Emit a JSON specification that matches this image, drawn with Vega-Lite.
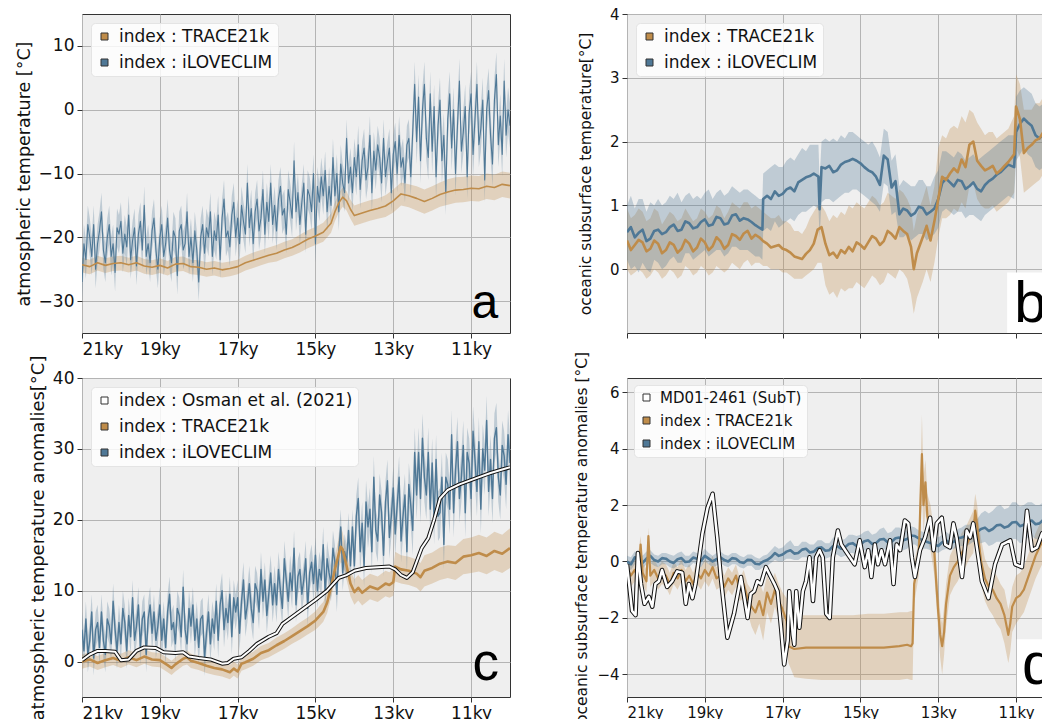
{
"$schema": "https://vega.github.io/schema/vega-lite/v6.json",
"background": "white",
"padding": {"left": 14, "top": 6, "right": 0, "bottom": 0},
"columns": 2,
"spacing": {"row": 45, "column": 117},
"bounds": "flush",
"resolve": {"scale": {"color": "independent"}, "legend": {"color": "independent"}},
"config": {
 "font": "DejaVu Sans",
 "view": {"fill": "#efefef", "stroke": "#333333", "strokeWidth": 1},
 "axis": {"grid": true, "gridColor": "#b4b4b4", "gridWidth": 1, "domain": false, "tickColor": "#333333", "tickSize": 5, "labelFont": "DejaVu Sans", "labelColor": "#111111", "titleFont": "DejaVu Sans", "titleFontWeight": "normal", "titleColor": "#111111", "labelPadding": 3, "titlePadding": 5},
 "legend": {"symbolType": "square", "symbolSize": 49, "symbolStrokeColor": "#333333", "symbolStrokeWidth": 1, "symbolOpacity": 1, "fillColor": "rgba(255,255,255,0.82)", "strokeColor": "#e4e4e4", "cornerRadius": 4, "padding": 5, "labelFont": "DejaVu Sans", "labelColor": "#111111", "labelOffset": 6, "labelLimit": 0, "titlePadding": 0}
},
"datasets": {
"a": [
{"s":"I","t":21.00,"m":-27,"l":-30,"h":-24},{"s":"I","t":20.95,"m":-21,"l":-24,"h":-18},{"s":"I","t":20.90,"m":-23.5,"l":-26.5,"h":-20.5},{"s":"I","t":20.85,"m":-18,"l":-21,"h":-15},{"s":"I","t":20.80,"m":-20,"l":-23,"h":-17},{"s":"I","t":20.75,"m":-23,"l":-26,"h":-20},{"s":"I","t":20.70,"m":-18,"l":-21,"h":-15},{"s":"I","t":20.65,"m":-25,"l":-28,"h":-22},{"s":"I","t":20.60,"m":-21,"l":-24,"h":-18},{"s":"I","t":20.55,"m":-19,"l":-22,"h":-16},
{"s":"I","t":20.50,"m":-16,"l":-19,"h":-13},{"s":"I","t":20.45,"m":-22,"l":-25,"h":-19},{"s":"I","t":20.40,"m":-24,"l":-27,"h":-21},{"s":"I","t":20.35,"m":-20,"l":-23,"h":-17},{"s":"I","t":20.30,"m":-18,"l":-21,"h":-15},{"s":"I","t":20.25,"m":-23,"l":-26,"h":-20},{"s":"I","t":20.20,"m":-21,"l":-24,"h":-18},{"s":"I","t":20.15,"m":-25.5,"l":-28.5,"h":-22.5},{"s":"I","t":20.10,"m":-18.5,"l":-21.5,"h":-15.5},{"s":"I","t":20.05,"m":-19.5,"l":-22.5,"h":-16.5},
{"s":"I","t":20.00,"m":-17.5,"l":-20.5,"h":-14.5},{"s":"I","t":19.95,"m":-22.5,"l":-25.5,"h":-19.5},{"s":"I","t":19.90,"m":-19.5,"l":-22.5,"h":-16.5},{"s":"I","t":19.85,"m":-21.5,"l":-24.5,"h":-18.5},{"s":"I","t":19.80,"m":-16.5,"l":-19.5,"h":-13.5},{"s":"I","t":19.75,"m":-23.5,"l":-26.5,"h":-20.5},{"s":"I","t":19.70,"m":-20.5,"l":-23.5,"h":-17.5},{"s":"I","t":19.65,"m":-18.5,"l":-21.5,"h":-15.5},{"s":"I","t":19.60,"m":-24.5,"l":-27.5,"h":-21.5},{"s":"I","t":19.55,"m":-19.5,"l":-22.5,"h":-16.5},
{"s":"I","t":19.50,"m":-17.5,"l":-20.5,"h":-14.5},{"s":"I","t":19.45,"m":-22,"l":-25,"h":-19},{"s":"I","t":19.40,"m":-15,"l":-18,"h":-12},{"s":"I","t":19.35,"m":-23,"l":-26,"h":-20},{"s":"I","t":19.30,"m":-21,"l":-24,"h":-18},{"s":"I","t":19.25,"m":-24,"l":-27,"h":-21},{"s":"I","t":19.20,"m":-19,"l":-22,"h":-16},{"s":"I","t":19.15,"m":-17,"l":-20,"h":-14},{"s":"I","t":19.10,"m":-22,"l":-25,"h":-19},{"s":"I","t":19.05,"m":-25,"l":-28,"h":-22},
{"s":"I","t":19.00,"m":-20,"l":-23,"h":-17},{"s":"I","t":18.95,"m":-18,"l":-21,"h":-15},{"s":"I","t":18.90,"m":-23,"l":-26,"h":-20},{"s":"I","t":18.85,"m":-21,"l":-24,"h":-18},{"s":"I","t":18.80,"m":-17,"l":-20,"h":-14},{"s":"I","t":18.75,"m":-22,"l":-25,"h":-19},{"s":"I","t":18.70,"m":-24,"l":-27,"h":-21},{"s":"I","t":18.65,"m":-19,"l":-22,"h":-16},{"s":"I","t":18.60,"m":-20,"l":-23,"h":-17},{"s":"I","t":18.55,"m":-26,"l":-29,"h":-23},
{"s":"I","t":18.50,"m":-19,"l":-22,"h":-16},{"s":"I","t":18.45,"m":-18,"l":-21,"h":-15},{"s":"I","t":18.40,"m":-22,"l":-25,"h":-19},{"s":"I","t":18.35,"m":-21,"l":-24,"h":-18},{"s":"I","t":18.30,"m":-16,"l":-19,"h":-13},{"s":"I","t":18.25,"m":-23,"l":-26,"h":-20},{"s":"I","t":18.20,"m":-20,"l":-23,"h":-17},{"s":"I","t":18.15,"m":-24,"l":-27,"h":-21},{"s":"I","t":18.10,"m":-19,"l":-22,"h":-16},{"s":"I","t":18.05,"m":-22,"l":-25,"h":-19},
{"s":"I","t":18.00,"m":-27,"l":-30,"h":-24},{"s":"I","t":17.95,"m":-20,"l":-23,"h":-17},{"s":"I","t":17.90,"m":-18,"l":-21,"h":-15},{"s":"I","t":17.85,"m":-22.5,"l":-25.5,"h":-19.5},{"s":"I","t":17.80,"m":-18.5,"l":-21.5,"h":-15.5},{"s":"I","t":17.75,"m":-20,"l":-23,"h":-17},{"s":"I","t":17.70,"m":-16,"l":-19,"h":-13},{"s":"I","t":17.65,"m":-23,"l":-26,"h":-20},{"s":"I","t":17.60,"m":-19,"l":-22,"h":-16},{"s":"I","t":17.55,"m":-20.5,"l":-23.5,"h":-17.5},
{"s":"I","t":17.50,"m":-16.5,"l":-19.5,"h":-13.5},{"s":"I","t":17.45,"m":-23.5,"l":-26.5,"h":-20.5},{"s":"I","t":17.40,"m":-17,"l":-20,"h":-14},{"s":"I","t":17.35,"m":-14,"l":-17,"h":-11},{"s":"I","t":17.30,"m":-20,"l":-23,"h":-17},{"s":"I","t":17.25,"m":-19,"l":-22,"h":-16},{"s":"I","t":17.20,"m":-21.5,"l":-24.5,"h":-18.5},{"s":"I","t":17.15,"m":-16.5,"l":-19.5,"h":-13.5},{"s":"I","t":17.10,"m":-14.5,"l":-17.5,"h":-11.5},{"s":"I","t":17.05,"m":-20,"l":-23,"h":-17},
{"s":"I","t":17.00,"m":-17,"l":-20,"h":-14},{"s":"I","t":16.95,"m":-21,"l":-24,"h":-18},{"s":"I","t":16.90,"m":-15,"l":-18,"h":-12},{"s":"I","t":16.85,"m":-17.5,"l":-20.5,"h":-14.5},{"s":"I","t":16.80,"m":-19.5,"l":-22.5,"h":-16.5},{"s":"I","t":16.75,"m":-11.5,"l":-14.5,"h":-8.5},{"s":"I","t":16.70,"m":-18.5,"l":-21.5,"h":-15.5},{"s":"I","t":16.65,"m":-15.5,"l":-18.5,"h":-12.5},{"s":"I","t":16.60,"m":-21,"l":-24,"h":-18},{"s":"I","t":16.55,"m":-16,"l":-19,"h":-13},
{"s":"I","t":16.50,"m":-14,"l":-17,"h":-11},{"s":"I","t":16.45,"m":-19,"l":-22,"h":-16},{"s":"I","t":16.40,"m":-17,"l":-20,"h":-14},{"s":"I","t":16.35,"m":-12.5,"l":-15.5,"h":-9.5},{"s":"I","t":16.30,"m":-19.5,"l":-22.5,"h":-16.5},{"s":"I","t":16.25,"m":-14.5,"l":-17.5,"h":-11.5},{"s":"I","t":16.20,"m":-17.5,"l":-20.5,"h":-14.5},{"s":"I","t":16.15,"m":-11.5,"l":-14.5,"h":-8.5},{"s":"I","t":16.10,"m":-18,"l":-21,"h":-15},{"s":"I","t":16.05,"m":-15,"l":-18,"h":-12},
{"s":"I","t":16.00,"m":-19,"l":-22,"h":-16},{"s":"I","t":15.95,"m":-14,"l":-17,"h":-11},{"s":"I","t":15.90,"m":-12,"l":-15,"h":-9},{"s":"I","t":15.85,"m":-16.5,"l":-19.5,"h":-13.5},{"s":"I","t":15.80,"m":-15.5,"l":-18.5,"h":-12.5},{"s":"I","t":15.75,"m":-19.5,"l":-22.5,"h":-16.5},{"s":"I","t":15.70,"m":-12.5,"l":-15.5,"h":-9.5},{"s":"I","t":15.65,"m":-14.5,"l":-17.5,"h":-11.5},{"s":"I","t":15.60,"m":-17,"l":-20,"h":-14},{"s":"I","t":15.55,"m":-8,"l":-11,"h":-5},
{"s":"I","t":15.50,"m":-16,"l":-19,"h":-13},{"s":"I","t":15.45,"m":-13,"l":-16,"h":-10},{"s":"I","t":15.40,"m":-18,"l":-21,"h":-15},{"s":"I","t":15.35,"m":-14.5,"l":-17.5,"h":-11.5},{"s":"I","t":15.30,"m":-11.5,"l":-14.5,"h":-8.5},{"s":"I","t":15.25,"m":-19.5,"l":-22.5,"h":-16.5},{"s":"I","t":15.20,"m":-12.5,"l":-15.5,"h":-9.5},{"s":"I","t":15.15,"m":-13.5,"l":-16.5,"h":-10.5},{"s":"I","t":15.10,"m":-16,"l":-19,"h":-13},{"s":"I","t":15.05,"m":-10,"l":-13,"h":-7},
{"s":"I","t":15.00,"m":-21,"l":-24,"h":-18},{"s":"I","t":14.95,"m":-12,"l":-15,"h":-9},{"s":"I","t":14.90,"m":-14.5,"l":-17.5,"h":-11.5},{"s":"I","t":14.85,"m":-10.5,"l":-13.5,"h":-7.5},{"s":"I","t":14.80,"m":-13.5,"l":-16.5,"h":-10.5},{"s":"I","t":14.75,"m":-9.5,"l":-12.5,"h":-6.5},{"s":"I","t":14.70,"m":-16,"l":-19,"h":-13},{"s":"I","t":14.65,"m":-12,"l":-15,"h":-9},{"s":"I","t":14.60,"m":-15,"l":-18,"h":-12},{"s":"I","t":14.55,"m":-7.5,"l":-10.5,"h":-4.5},
{"s":"I","t":14.50,"m":-13.5,"l":-16.5,"h":-10.5},{"s":"I","t":14.45,"m":-10,"l":-13,"h":-7},{"s":"I","t":14.40,"m":-16,"l":-19,"h":-13},{"s":"I","t":14.35,"m":-8.5,"l":-11.5,"h":-5.5},{"s":"I","t":14.30,"m":-11.5,"l":-14.5,"h":-8.5},{"s":"I","t":14.25,"m":-13,"l":-16,"h":-10},{"s":"I","t":14.20,"m":-4.5,"l":-7.5,"h":-1.5},{"s":"I","t":14.15,"m":-11.5,"l":-14.5,"h":-8.5},{"s":"I","t":14.10,"m":-9,"l":-12,"h":-6},{"s":"I","t":14.05,"m":-13,"l":-16,"h":-10},
{"s":"I","t":14.00,"m":-7.5,"l":-10.5,"h":-4.5},{"s":"I","t":13.95,"m":-10.5,"l":-13.5,"h":-7.5},{"s":"I","t":13.90,"m":-5.5,"l":-8.5,"h":-2.5},{"s":"I","t":13.85,"m":-12.5,"l":-15.5,"h":-9.5},{"s":"I","t":13.80,"m":-8,"l":-11,"h":-5},{"s":"I","t":13.75,"m":-6,"l":-9,"h":-3},{"s":"I","t":13.70,"m":-11,"l":-14,"h":-8},{"s":"I","t":13.65,"m":-9,"l":-12,"h":-6},{"s":"I","t":13.60,"m":-4,"l":-7,"h":-1},{"s":"I","t":13.55,"m":-13,"l":-16,"h":-10},
{"s":"I","t":13.50,"m":-6.5,"l":-9.5,"h":-3.5},{"s":"I","t":13.45,"m":-9.5,"l":-12.5,"h":-6.5},{"s":"I","t":13.40,"m":-5.5,"l":-8.5,"h":-2.5},{"s":"I","t":13.35,"m":-7.5,"l":-10.5,"h":-4.5},{"s":"I","t":13.30,"m":-11.5,"l":-14.5,"h":-8.5},{"s":"I","t":13.25,"m":-4.5,"l":-7.5,"h":-1.5},{"s":"I","t":13.20,"m":-10.5,"l":-13.5,"h":-7.5},{"s":"I","t":13.15,"m":-8,"l":-11,"h":-5},{"s":"I","t":13.10,"m":-6,"l":-9,"h":-3},{"s":"I","t":13.05,"m":-13,"l":-16,"h":-10},
{"s":"I","t":13.00,"m":-7,"l":-10,"h":-4},{"s":"I","t":12.95,"m":-5,"l":-8,"h":-2},{"s":"I","t":12.90,"m":-10,"l":-13,"h":-7},{"s":"I","t":12.85,"m":-4,"l":-7,"h":-1},{"s":"I","t":12.80,"m":-9,"l":-12,"h":-6},{"s":"I","t":12.75,"m":-7.5,"l":-10.5,"h":-4.5},{"s":"I","t":12.70,"m":-11.5,"l":-14.5,"h":-8.5},{"s":"I","t":12.65,"m":-5.5,"l":-8.5,"h":-2.5},{"s":"I","t":12.60,"m":-4.5,"l":-7.5,"h":-1.5},{"s":"I","t":12.55,"m":-10.5,"l":-13.5,"h":-7.5},
{"s":"I","t":12.50,"m":-3.5,"l":-7,"h":0},{"s":"I","t":12.45,"m":4,"l":0.5,"h":7.5},{"s":"I","t":12.40,"m":-5,"l":-8.5,"h":-1.5},{"s":"I","t":12.35,"m":2,"l":-1.5,"h":5.5},{"s":"I","t":12.30,"m":-8,"l":-11.5,"h":-4.5},{"s":"I","t":12.25,"m":0,"l":-3.5,"h":3.5},{"s":"I","t":12.20,"m":4,"l":0.5,"h":7.5},{"s":"I","t":12.15,"m":-4.5,"l":-8,"h":-1},{"s":"I","t":12.10,"m":-7.5,"l":-11,"h":-4},{"s":"I","t":12.05,"m":2.5,"l":-1,"h":6},
{"s":"I","t":12.00,"m":-6.5,"l":-10,"h":-3},{"s":"I","t":11.95,"m":0.5,"l":-3,"h":4},{"s":"I","t":11.90,"m":-10.5,"l":-14,"h":-7},{"s":"I","t":11.85,"m":-2.5,"l":-6,"h":1},{"s":"I","t":11.80,"m":1.5,"l":-2,"h":5},{"s":"I","t":11.75,"m":-8,"l":-11.5,"h":-4.5},{"s":"I","t":11.70,"m":-4,"l":-7.5,"h":-0.5},{"s":"I","t":11.65,"m":-13,"l":-16.5,"h":-9.5},{"s":"I","t":11.60,"m":-1.5,"l":-5,"h":2},{"s":"I","t":11.55,"m":2.5,"l":-1,"h":6},
{"s":"I","t":11.50,"m":-6,"l":-9.5,"h":-2.5},{"s":"I","t":11.45,"m":0,"l":-3.5,"h":3.5},{"s":"I","t":11.40,"m":-10,"l":-13.5,"h":-6.5},{"s":"I","t":11.35,"m":-2.5,"l":-6,"h":1},{"s":"I","t":11.30,"m":4.5,"l":1,"h":8},{"s":"I","t":11.25,"m":-6.5,"l":-10,"h":-3},{"s":"I","t":11.20,"m":-3.5,"l":-7,"h":0},{"s":"I","t":11.15,"m":0.5,"l":-3,"h":4},{"s":"I","t":11.10,"m":-10.5,"l":-14,"h":-7},{"s":"I","t":11.05,"m":-0.5,"l":-4,"h":3},
{"s":"I","t":11.00,"m":2.5,"l":-1,"h":6},{"s":"I","t":10.95,"m":-7,"l":-10.5,"h":-3.5},{"s":"I","t":10.90,"m":-1.5,"l":-5,"h":2},{"s":"I","t":10.85,"m":4,"l":0.5,"h":7.5},{"s":"I","t":10.80,"m":-5.5,"l":-9,"h":-2},{"s":"I","t":10.75,"m":-3,"l":-6.5,"h":0.5},{"s":"I","t":10.70,"m":1.5,"l":-2,"h":5},{"s":"I","t":10.65,"m":-11,"l":-14.5,"h":-7.5},{"s":"I","t":10.60,"m":0,"l":-3.5,"h":3.5},{"s":"I","t":10.55,"m":3,"l":-0.5,"h":6.5},
{"s":"I","t":10.50,"m":-4,"l":-7.5,"h":-0.5},{"s":"I","t":10.45,"m":-8.5,"l":-12,"h":-5},{"s":"I","t":10.40,"m":1.5,"l":-2,"h":5},{"s":"I","t":10.35,"m":5.5,"l":2,"h":9},{"s":"I","t":10.30,"m":-5.5,"l":-9,"h":-2},{"s":"I","t":10.25,"m":-1,"l":-4.5,"h":2.5},{"s":"I","t":10.20,"m":-7,"l":-10.5,"h":-3.5},{"s":"I","t":10.15,"m":4.5,"l":1,"h":8},{"s":"I","t":10.10,"m":-4,"l":-7.5,"h":-0.5},{"s":"I","t":10.05,"m":0,"l":-3.5,"h":3.5},{"s":"I","t":10.00,"m":-2.5,"l":-6,"h":1},
{"s":"T","t":21.0,"m":-24.3,"l":-25.5,"h":-23.2},{"s":"T","t":20.8,"m":-24.6,"l":-25.8,"h":-23.5},{"s":"T","t":20.6,"m":-24.0,"l":-25.2,"h":-22.9},{"s":"T","t":20.4,"m":-24.4,"l":-25.6,"h":-23.3},{"s":"T","t":20.2,"m":-24.1,"l":-25.3,"h":-23.0},{"s":"T","t":20.0,"m":-24.0,"l":-25.2,"h":-22.9},{"s":"T","t":19.8,"m":-24.3,"l":-25.5,"h":-23.2},{"s":"T","t":19.6,"m":-24.0,"l":-25.2,"h":-22.9},{"s":"T","t":19.4,"m":-24.5,"l":-25.7,"h":-23.4},{"s":"T","t":19.2,"m":-24.7,"l":-25.9,"h":-23.6},
{"s":"T","t":19.0,"m":-24.4,"l":-25.6,"h":-23.3},{"s":"T","t":18.8,"m":-24.8,"l":-26.0,"h":-23.7},{"s":"T","t":18.6,"m":-24.2,"l":-25.4,"h":-23.1},{"s":"T","t":18.4,"m":-24.1,"l":-25.3,"h":-23.0},{"s":"T","t":18.2,"m":-24.6,"l":-25.8,"h":-23.5},{"s":"T","t":18.0,"m":-24.7,"l":-25.9,"h":-23.6},{"s":"T","t":17.8,"m":-25.0,"l":-26.2,"h":-23.9},{"s":"T","t":17.6,"m":-24.8,"l":-26.0,"h":-23.7},{"s":"T","t":17.4,"m":-25.1,"l":-26.3,"h":-24.0},{"s":"T","t":17.2,"m":-24.9,"l":-26.1,"h":-23.8},
{"s":"T","t":17.0,"m":-24.6,"l":-25.8,"h":-23.5},{"s":"T","t":16.8,"m":-24.0,"l":-25.2,"h":-22.9},{"s":"T","t":16.6,"m":-23.6,"l":-24.8,"h":-22.4},{"s":"T","t":16.4,"m":-23.2,"l":-24.4,"h":-22.0},{"s":"T","t":16.2,"m":-22.8,"l":-24.0,"h":-21.6},{"s":"T","t":16.0,"m":-22.5,"l":-23.8,"h":-21.2},{"s":"T","t":15.8,"m":-22.0,"l":-23.3,"h":-20.7},{"s":"T","t":15.6,"m":-21.6,"l":-22.9,"h":-20.3},{"s":"T","t":15.4,"m":-21.0,"l":-22.4,"h":-19.6},{"s":"T","t":15.2,"m":-20.3,"l":-21.7,"h":-18.9},
{"s":"T","t":15.0,"m":-19.8,"l":-21.2,"h":-18.4},{"s":"T","t":14.8,"m":-19.2,"l":-20.7,"h":-17.7},{"s":"T","t":14.6,"m":-17.8,"l":-19.3,"h":-16.3},{"s":"T","t":14.5,"m":-16.0,"l":-17.5,"h":-14.5},{"s":"T","t":14.4,"m":-14.6,"l":-16.1,"h":-13.1},{"s":"T","t":14.3,"m":-13.7,"l":-15.2,"h":-12.2},{"s":"T","t":14.2,"m":-14.3,"l":-15.8,"h":-12.8},{"s":"T","t":14.1,"m":-15.6,"l":-17.1,"h":-14.1},{"s":"T","t":14.0,"m":-16.6,"l":-18.2,"h":-15.0},{"s":"T","t":13.8,"m":-16.2,"l":-17.8,"h":-14.6},
{"s":"T","t":13.6,"m":-15.8,"l":-17.4,"h":-14.2},{"s":"T","t":13.4,"m":-15.5,"l":-17.1,"h":-13.9},{"s":"T","t":13.2,"m":-15.1,"l":-16.8,"h":-13.4},{"s":"T","t":13.0,"m":-14.3,"l":-16.1,"h":-12.5},{"s":"T","t":12.8,"m":-13.2,"l":-15.0,"h":-11.4},{"s":"T","t":12.6,"m":-13.5,"l":-15.3,"h":-11.7},{"s":"T","t":12.4,"m":-13.9,"l":-15.8,"h":-12.0},{"s":"T","t":12.2,"m":-14.4,"l":-16.3,"h":-12.5},{"s":"T","t":12.0,"m":-13.9,"l":-15.8,"h":-12.0},{"s":"T","t":11.8,"m":-13.3,"l":-15.2,"h":-11.4},
{"s":"T","t":11.6,"m":-12.9,"l":-14.9,"h":-10.9},{"s":"T","t":11.4,"m":-12.6,"l":-14.6,"h":-10.6},{"s":"T","t":11.2,"m":-12.5,"l":-14.5,"h":-10.5},{"s":"T","t":11.0,"m":-12.3,"l":-14.3,"h":-10.3},{"s":"T","t":10.8,"m":-12.4,"l":-14.4,"h":-10.4},{"s":"T","t":10.6,"m":-12.0,"l":-14.0,"h":-10.0},{"s":"T","t":10.4,"m":-12.2,"l":-14.2,"h":-10.2},{"s":"T","t":10.2,"m":-11.7,"l":-13.7,"h":-9.7},{"s":"T","t":10.0,"m":-11.9,"l":-13.9,"h":-9.9}
],
"b": [
{"s":"I","t":21.0,"m":0.58,"l":0.15,"h":1.0},{"s":"I","t":20.9,"m":0.66,"l":0.0,"h":1.15},{"s":"I","t":20.8,"m":0.50,"l":0.05,"h":0.95},{"s":"I","t":20.7,"m":0.57,"l":-0.05,"h":1.1},{"s":"I","t":20.6,"m":0.62,"l":0.1,"h":1.1},{"s":"I","t":20.5,"m":0.44,"l":0.0,"h":0.9},{"s":"I","t":20.4,"m":0.48,"l":-0.05,"h":1.05},{"s":"I","t":20.3,"m":0.60,"l":0.15,"h":1.0},{"s":"I","t":20.2,"m":0.62,"l":0.1,"h":1.1},{"s":"I","t":20.1,"m":0.55,"l":0.0,"h":1.0},{"s":"I","t":20.0,"m":0.58,"l":0.05,"h":1.05},
{"s":"I","t":19.9,"m":0.66,"l":0.15,"h":1.15},{"s":"I","t":19.8,"m":0.70,"l":0.2,"h":1.1},{"s":"I","t":19.7,"m":0.60,"l":0.1,"h":1.2},{"s":"I","t":19.6,"m":0.62,"l":0.1,"h":1.05},{"s":"I","t":19.5,"m":0.75,"l":0.25,"h":1.15},{"s":"I","t":19.4,"m":0.72,"l":0.25,"h":1.2},{"s":"I","t":19.3,"m":0.64,"l":0.15,"h":1.1},{"s":"I","t":19.2,"m":0.66,"l":0.2,"h":1.15},{"s":"I","t":19.1,"m":0.74,"l":0.25,"h":1.1},
{"s":"I","t":19.0,"m":0.78,"l":0.3,"h":1.2},{"s":"I","t":18.9,"m":0.68,"l":0.2,"h":1.25},{"s":"I","t":18.8,"m":0.70,"l":0.25,"h":1.1},{"s":"I","t":18.7,"m":0.82,"l":0.3,"h":1.2},{"s":"I","t":18.6,"m":0.80,"l":0.3,"h":1.25},{"s":"I","t":18.5,"m":0.70,"l":0.2,"h":1.15},{"s":"I","t":18.4,"m":0.72,"l":0.25,"h":1.2},{"s":"I","t":18.3,"m":0.84,"l":0.35,"h":1.3},{"s":"I","t":18.2,"m":0.86,"l":0.35,"h":1.25},{"s":"I","t":18.1,"m":0.76,"l":0.3,"h":1.2},
{"s":"I","t":18.0,"m":0.80,"l":0.3,"h":1.25},{"s":"I","t":17.9,"m":0.78,"l":0.3,"h":1.25},{"s":"I","t":17.8,"m":0.74,"l":0.25,"h":1.2},{"s":"I","t":17.7,"m":0.69,"l":0.2,"h":1.15},{"s":"I","t":17.6,"m":0.65,"l":0.2,"h":1.1},{"s":"I","t":17.52,"m":0.62,"l":0.15,"h":1.1},{"s":"I","t":17.5,"m":1.10,"l":0.6,"h":1.5},{"s":"I","t":17.4,"m":1.15,"l":0.65,"h":1.55},{"s":"I","t":17.3,"m":1.10,"l":0.6,"h":1.6},{"s":"I","t":17.2,"m":1.22,"l":0.75,"h":1.65},{"s":"I","t":17.1,"m":1.15,"l":0.65,"h":1.6},
{"s":"I","t":17.0,"m":1.18,"l":0.7,"h":1.6},{"s":"I","t":16.9,"m":1.25,"l":0.75,"h":1.7},{"s":"I","t":16.8,"m":1.28,"l":0.8,"h":1.75},{"s":"I","t":16.7,"m":1.22,"l":0.75,"h":1.7},{"s":"I","t":16.6,"m":1.36,"l":0.85,"h":1.8},{"s":"I","t":16.5,"m":1.40,"l":0.9,"h":1.9},{"s":"I","t":16.4,"m":1.44,"l":0.9,"h":1.85},{"s":"I","t":16.3,"m":1.46,"l":0.95,"h":1.95},{"s":"I","t":16.2,"m":1.50,"l":1.0,"h":1.95},{"s":"I","t":16.08,"m":1.45,"l":0.95,"h":1.95},{"s":"I","t":16.05,"m":0.94,"l":0.5,"h":1.4},{"s":"I","t":16.0,"m":1.60,"l":1.05,"h":2.0},
{"s":"I","t":15.9,"m":1.58,"l":1.1,"h":2.05},{"s":"I","t":15.8,"m":1.62,"l":1.1,"h":2.0},{"s":"I","t":15.7,"m":1.52,"l":1.05,"h":2.05},{"s":"I","t":15.6,"m":1.55,"l":1.1,"h":2.0},{"s":"I","t":15.5,"m":1.64,"l":1.15,"h":2.1},{"s":"I","t":15.4,"m":1.68,"l":1.2,"h":2.05},{"s":"I","t":15.3,"m":1.70,"l":1.2,"h":2.15},{"s":"I","t":15.2,"m":1.73,"l":1.25,"h":2.15},{"s":"I","t":15.1,"m":1.70,"l":1.25,"h":2.1},
{"s":"I","t":15.0,"m":1.66,"l":1.2,"h":2.05},{"s":"I","t":14.9,"m":1.60,"l":1.15,"h":2.0},{"s":"I","t":14.8,"m":1.55,"l":1.1,"h":1.95},{"s":"I","t":14.7,"m":1.52,"l":1.05,"h":2.0},{"s":"I","t":14.6,"m":1.45,"l":1.0,"h":1.9},{"s":"I","t":14.5,"m":1.32,"l":0.9,"h":1.75},{"s":"I","t":14.4,"m":1.78,"l":1.35,"h":2.2},{"s":"I","t":14.3,"m":1.72,"l":1.3,"h":2.15},{"s":"I","t":14.2,"m":1.28,"l":0.85,"h":1.7},{"s":"I","t":14.1,"m":1.38,"l":0.9,"h":1.8},
{"s":"I","t":14.0,"m":0.86,"l":0.5,"h":1.3},{"s":"I","t":13.9,"m":0.95,"l":0.5,"h":1.4},{"s":"I","t":13.8,"m":0.92,"l":0.55,"h":1.35},{"s":"I","t":13.7,"m":0.84,"l":0.45,"h":1.3},{"s":"I","t":13.6,"m":0.88,"l":0.5,"h":1.3},{"s":"I","t":13.5,"m":0.98,"l":0.55,"h":1.4},{"s":"I","t":13.4,"m":0.96,"l":0.55,"h":1.4},{"s":"I","t":13.3,"m":0.86,"l":0.45,"h":1.3},{"s":"I","t":13.2,"m":0.90,"l":0.5,"h":1.3},{"s":"I","t":13.1,"m":0.95,"l":0.55,"h":1.45},
{"s":"I","t":13.0,"m":1.10,"l":0.65,"h":1.55},{"s":"I","t":12.9,"m":1.35,"l":0.9,"h":1.85},{"s":"I","t":12.8,"m":1.42,"l":0.95,"h":1.85},{"s":"I","t":12.7,"m":1.36,"l":0.9,"h":1.8},{"s":"I","t":12.6,"m":1.30,"l":0.85,"h":1.75},{"s":"I","t":12.5,"m":1.40,"l":0.9,"h":1.85},{"s":"I","t":12.4,"m":1.38,"l":0.9,"h":1.8},{"s":"I","t":12.3,"m":1.26,"l":0.8,"h":1.7},{"s":"I","t":12.2,"m":1.30,"l":0.85,"h":1.75},{"s":"I","t":12.1,"m":1.36,"l":0.85,"h":1.8},
{"s":"I","t":12.0,"m":1.26,"l":0.8,"h":1.7},{"s":"I","t":11.9,"m":1.22,"l":0.75,"h":1.75},{"s":"I","t":11.8,"m":1.32,"l":0.85,"h":1.8},{"s":"I","t":11.7,"m":1.38,"l":0.9,"h":1.85},{"s":"I","t":11.6,"m":1.42,"l":0.95,"h":1.9},{"s":"I","t":11.5,"m":1.48,"l":1.0,"h":1.95},{"s":"I","t":11.4,"m":1.52,"l":1.05,"h":2.0},{"s":"I","t":11.3,"m":1.58,"l":1.1,"h":2.05},{"s":"I","t":11.2,"m":1.64,"l":1.15,"h":2.1},{"s":"I","t":11.05,"m":1.6,"l":1.1,"h":2.1},
{"s":"I","t":11.0,"m":2.15,"l":1.7,"h":2.7},{"s":"I","t":10.9,"m":2.28,"l":1.8,"h":2.8},{"s":"I","t":10.8,"m":2.36,"l":1.9,"h":2.85},{"s":"I","t":10.7,"m":2.30,"l":1.8,"h":2.8},{"s":"I","t":10.6,"m":2.25,"l":1.75,"h":2.75},{"s":"I","t":10.5,"m":2.10,"l":1.6,"h":2.6},{"s":"I","t":10.4,"m":2.05,"l":1.55,"h":2.55},{"s":"I","t":10.3,"m":2.12,"l":1.6,"h":2.6},{"s":"I","t":10.2,"m":2.15,"l":1.65,"h":2.65},{"s":"I","t":10.1,"m":2.08,"l":1.6,"h":2.6},{"s":"I","t":10.0,"m":2.05,"l":1.55,"h":2.55},
{"s":"T","t":21.0,"m":0.45,"l":0.0,"h":0.95},{"s":"T","t":20.9,"m":0.30,"l":-0.1,"h":0.8},{"s":"T","t":20.8,"m":0.38,"l":-0.05,"h":0.85},{"s":"T","t":20.7,"m":0.46,"l":0.0,"h":0.95},{"s":"T","t":20.6,"m":0.42,"l":-0.05,"h":0.9},{"s":"T","t":20.5,"m":0.28,"l":-0.15,"h":0.75},{"s":"T","t":20.4,"m":0.32,"l":-0.1,"h":0.8},{"s":"T","t":20.3,"m":0.45,"l":0.0,"h":0.95},{"s":"T","t":20.2,"m":0.40,"l":-0.05,"h":0.9},{"s":"T","t":20.1,"m":0.25,"l":-0.15,"h":0.7},
{"s":"T","t":20.0,"m":0.30,"l":-0.1,"h":0.8},{"s":"T","t":19.9,"m":0.42,"l":0.0,"h":0.9},{"s":"T","t":19.8,"m":0.38,"l":-0.05,"h":0.85},{"s":"T","t":19.7,"m":0.26,"l":-0.15,"h":0.75},{"s":"T","t":19.6,"m":0.32,"l":-0.1,"h":0.8},{"s":"T","t":19.5,"m":0.46,"l":0.05,"h":0.95},{"s":"T","t":19.4,"m":0.40,"l":0.0,"h":0.85},{"s":"T","t":19.3,"m":0.28,"l":-0.1,"h":0.75},{"s":"T","t":19.2,"m":0.34,"l":-0.05,"h":0.8},{"s":"T","t":19.1,"m":0.48,"l":0.05,"h":0.95},
{"s":"T","t":19.0,"m":0.42,"l":0.0,"h":0.9},{"s":"T","t":18.9,"m":0.30,"l":-0.1,"h":0.8},{"s":"T","t":18.8,"m":0.36,"l":-0.05,"h":0.85},{"s":"T","t":18.7,"m":0.50,"l":0.05,"h":1.0},{"s":"T","t":18.6,"m":0.44,"l":0.0,"h":0.95},{"s":"T","t":18.5,"m":0.32,"l":-0.05,"h":0.8},{"s":"T","t":18.4,"m":0.38,"l":0.0,"h":0.9},{"s":"T","t":18.3,"m":0.55,"l":0.1,"h":1.05},{"s":"T","t":18.2,"m":0.52,"l":0.05,"h":1.0},{"s":"T","t":18.1,"m":0.46,"l":0.0,"h":0.95},
{"s":"T","t":18.0,"m":0.56,"l":0.1,"h":1.05},{"s":"T","t":17.9,"m":0.60,"l":0.15,"h":1.05},{"s":"T","t":17.8,"m":0.48,"l":0.05,"h":0.95},{"s":"T","t":17.7,"m":0.54,"l":0.1,"h":1.0},{"s":"T","t":17.6,"m":0.50,"l":0.1,"h":0.95},{"s":"T","t":17.5,"m":0.44,"l":0.05,"h":0.9},{"s":"T","t":17.4,"m":0.40,"l":0.05,"h":0.85},{"s":"T","t":17.3,"m":0.34,"l":0.0,"h":0.8},{"s":"T","t":17.2,"m":0.36,"l":0.0,"h":0.8},{"s":"T","t":17.1,"m":0.38,"l":0.0,"h":0.85},
{"s":"T","t":17.0,"m":0.32,"l":-0.05,"h":0.75},{"s":"T","t":16.9,"m":0.30,"l":-0.05,"h":0.75},{"s":"T","t":16.8,"m":0.26,"l":-0.1,"h":0.7},{"s":"T","t":16.7,"m":0.20,"l":-0.15,"h":0.6},{"s":"T","t":16.6,"m":0.18,"l":-0.15,"h":0.6},{"s":"T","t":16.5,"m":0.16,"l":-0.15,"h":0.55},{"s":"T","t":16.4,"m":0.24,"l":-0.1,"h":0.65},{"s":"T","t":16.3,"m":0.30,"l":-0.05,"h":0.8},{"s":"T","t":16.2,"m":0.40,"l":0.0,"h":0.9},{"s":"T","t":16.1,"m":0.62,"l":0.1,"h":1.0},{"s":"T","t":16.0,"m":0.66,"l":0.1,"h":1.0},
{"s":"T","t":15.9,"m":0.40,"l":-0.25,"h":0.9},{"s":"T","t":15.8,"m":0.22,"l":-0.4,"h":0.75},{"s":"T","t":15.7,"m":0.26,"l":-0.35,"h":0.85},{"s":"T","t":15.6,"m":0.18,"l":-0.45,"h":0.8},{"s":"T","t":15.5,"m":0.30,"l":-0.3,"h":0.9},{"s":"T","t":15.4,"m":0.25,"l":-0.35,"h":0.85},{"s":"T","t":15.3,"m":0.35,"l":-0.3,"h":1.0},{"s":"T","t":15.2,"m":0.28,"l":-0.3,"h":0.95},{"s":"T","t":15.1,"m":0.42,"l":-0.2,"h":1.05},
{"s":"T","t":15.0,"m":0.38,"l":-0.25,"h":1.0},{"s":"T","t":14.9,"m":0.32,"l":-0.3,"h":0.95},{"s":"T","t":14.8,"m":0.42,"l":-0.2,"h":1.05},{"s":"T","t":14.7,"m":0.52,"l":-0.1,"h":1.15},{"s":"T","t":14.6,"m":0.48,"l":-0.15,"h":1.1},{"s":"T","t":14.5,"m":0.38,"l":-0.25,"h":1.0},{"s":"T","t":14.4,"m":0.44,"l":-0.2,"h":1.05},{"s":"T","t":14.3,"m":0.60,"l":-0.05,"h":1.2},{"s":"T","t":14.2,"m":0.55,"l":-0.1,"h":1.15},{"s":"T","t":14.1,"m":0.48,"l":-0.15,"h":1.1},
{"s":"T","t":14.0,"m":0.66,"l":0.0,"h":1.25},{"s":"T","t":13.9,"m":0.60,"l":-0.05,"h":1.2},{"s":"T","t":13.8,"m":0.55,"l":-0.15,"h":1.1},{"s":"T","t":13.7,"m":0.35,"l":-0.4,"h":0.95},{"s":"T","t":13.63,"m":0.0,"l":-0.7,"h":0.6},{"s":"T","t":13.55,"m":0.25,"l":-0.45,"h":0.85},{"s":"T","t":13.4,"m":0.50,"l":-0.2,"h":1.1},{"s":"T","t":13.3,"m":0.68,"l":0.0,"h":1.3},{"s":"T","t":13.2,"m":0.45,"l":-0.2,"h":1.0},{"s":"T","t":13.1,"m":0.75,"l":0.1,"h":1.3},
{"s":"T","t":13.0,"m":1.10,"l":0.5,"h":1.9},{"s":"T","t":12.9,"m":1.45,"l":0.8,"h":2.1},{"s":"T","t":12.8,"m":1.40,"l":0.8,"h":2.05},{"s":"T","t":12.7,"m":1.50,"l":0.85,"h":2.2},{"s":"T","t":12.6,"m":1.58,"l":0.95,"h":2.25},{"s":"T","t":12.5,"m":1.52,"l":0.9,"h":2.2},{"s":"T","t":12.4,"m":1.72,"l":1.05,"h":2.4},{"s":"T","t":12.3,"m":1.60,"l":0.95,"h":2.3},{"s":"T","t":12.2,"m":1.95,"l":1.3,"h":2.5},{"s":"T","t":12.1,"m":2.00,"l":1.35,"h":2.45},
{"s":"T","t":12.0,"m":1.70,"l":1.1,"h":2.3},{"s":"T","t":11.9,"m":1.62,"l":1.0,"h":2.2},{"s":"T","t":11.8,"m":1.55,"l":0.95,"h":2.1},{"s":"T","t":11.7,"m":1.58,"l":0.95,"h":2.15},{"s":"T","t":11.6,"m":1.62,"l":1.0,"h":2.15},{"s":"T","t":11.5,"m":1.50,"l":0.9,"h":2.05},{"s":"T","t":11.4,"m":1.55,"l":0.95,"h":2.1},{"s":"T","t":11.3,"m":1.62,"l":1.0,"h":2.15},{"s":"T","t":11.2,"m":1.68,"l":1.05,"h":2.2},{"s":"T","t":11.05,"m":1.8,"l":1.2,"h":2.4},
{"s":"T","t":11.0,"m":2.55,"l":1.9,"h":3.05},{"s":"T","t":10.9,"m":2.35,"l":1.75,"h":2.9},{"s":"T","t":10.8,"m":1.82,"l":1.2,"h":2.5},{"s":"T","t":10.7,"m":1.90,"l":1.25,"h":2.5},{"s":"T","t":10.6,"m":1.95,"l":1.3,"h":2.5},{"s":"T","t":10.5,"m":2.02,"l":1.35,"h":2.6},{"s":"T","t":10.4,"m":2.05,"l":1.4,"h":2.6},{"s":"T","t":10.3,"m":2.15,"l":1.5,"h":2.7},{"s":"T","t":10.2,"m":2.10,"l":1.5,"h":2.7},{"s":"T","t":10.1,"m":2.05,"l":1.45,"h":2.65},{"s":"T","t":10.0,"m":2.00,"l":1.4,"h":2.6}
],
"c": [
{"s":"I","t":21.00,"m":4.5,"l":2,"h":7},{"s":"I","t":20.95,"m":1.5,"l":-1,"h":4},{"s":"I","t":20.90,"m":6,"l":3.5,"h":8.5},{"s":"I","t":20.85,"m":1,"l":-1.5,"h":3.5},{"s":"I","t":20.80,"m":3,"l":0.5,"h":5.5},{"s":"I","t":20.75,"m":7,"l":4.5,"h":9.5},{"s":"I","t":20.70,"m":0.5,"l":-2,"h":3},{"s":"I","t":20.65,"m":4.5,"l":2,"h":7},{"s":"I","t":20.60,"m":5.5,"l":3,"h":8},{"s":"I","t":20.55,"m":2,"l":-0.5,"h":4.5},
{"s":"I","t":20.50,"m":7,"l":4.5,"h":9.5},{"s":"I","t":20.45,"m":3,"l":0.5,"h":5.5},{"s":"I","t":20.40,"m":1,"l":-1.5,"h":3.5},{"s":"I","t":20.35,"m":6,"l":3.5,"h":8.5},{"s":"I","t":20.30,"m":5,"l":2.5,"h":7.5},{"s":"I","t":20.25,"m":2.5,"l":0,"h":5},{"s":"I","t":20.20,"m":8.5,"l":6,"h":11},{"s":"I","t":20.15,"m":4.5,"l":2,"h":7},{"s":"I","t":20.10,"m":1.5,"l":-1,"h":4},{"s":"I","t":20.05,"m":5.5,"l":3,"h":8},
{"s":"I","t":20.00,"m":2.5,"l":0,"h":5},{"s":"I","t":19.95,"m":7.5,"l":5,"h":10},{"s":"I","t":19.90,"m":5.5,"l":3,"h":8},{"s":"I","t":19.85,"m":1.5,"l":-1,"h":4},{"s":"I","t":19.80,"m":6.5,"l":4,"h":9},{"s":"I","t":19.75,"m":3.5,"l":1,"h":6},{"s":"I","t":19.70,"m":9,"l":6.5,"h":11.5},{"s":"I","t":19.65,"m":3,"l":0.5,"h":5.5},{"s":"I","t":19.60,"m":5,"l":2.5,"h":7.5},{"s":"I","t":19.55,"m":8,"l":5.5,"h":10.5},
{"s":"I","t":19.50,"m":2,"l":-0.5,"h":4.5},{"s":"I","t":19.45,"m":6,"l":3.5,"h":8.5},{"s":"I","t":19.40,"m":7,"l":4.5,"h":9.5},{"s":"I","t":19.35,"m":1,"l":-1.5,"h":3.5},{"s":"I","t":19.30,"m":6,"l":3.5,"h":8.5},{"s":"I","t":19.25,"m":8,"l":5.5,"h":10.5},{"s":"I","t":19.20,"m":4,"l":1.5,"h":6.5},{"s":"I","t":19.15,"m":7,"l":4.5,"h":9.5},{"s":"I","t":19.10,"m":3,"l":0.5,"h":5.5},{"s":"I","t":19.05,"m":5,"l":2.5,"h":7.5},
{"s":"I","t":19.00,"m":8,"l":5.5,"h":10.5},{"s":"I","t":18.95,"m":3,"l":0.5,"h":5.5},{"s":"I","t":18.90,"m":6,"l":3.5,"h":8.5},{"s":"I","t":18.85,"m":2,"l":-0.5,"h":4.5},{"s":"I","t":18.80,"m":7,"l":4.5,"h":9.5},{"s":"I","t":18.75,"m":9.5,"l":7,"h":12},{"s":"I","t":18.70,"m":4.5,"l":2,"h":7},{"s":"I","t":18.65,"m":5.5,"l":3,"h":8},{"s":"I","t":18.60,"m":2.5,"l":0,"h":5},{"s":"I","t":18.55,"m":7.5,"l":5,"h":10},
{"s":"I","t":18.50,"m":6.5,"l":4,"h":9},{"s":"I","t":18.45,"m":3.5,"l":1,"h":6},{"s":"I","t":18.40,"m":10.5,"l":8,"h":13},{"s":"I","t":18.35,"m":4.5,"l":2,"h":7},{"s":"I","t":18.30,"m":2.5,"l":0,"h":5},{"s":"I","t":18.25,"m":7.5,"l":5,"h":10},{"s":"I","t":18.20,"m":5,"l":2.5,"h":7.5},{"s":"I","t":18.15,"m":8,"l":5.5,"h":10.5},{"s":"I","t":18.10,"m":3,"l":0.5,"h":5.5},{"s":"I","t":18.05,"m":6,"l":3.5,"h":8.5},
{"s":"I","t":18.00,"m":2,"l":-0.5,"h":4.5},{"s":"I","t":17.95,"m":6,"l":3.5,"h":8.5},{"s":"I","t":17.90,"m":6.5,"l":4,"h":9},{"s":"I","t":17.85,"m":0.5,"l":-2,"h":3},{"s":"I","t":17.80,"m":4,"l":1.5,"h":6.5},{"s":"I","t":17.75,"m":7,"l":4.5,"h":9.5},{"s":"I","t":17.70,"m":2.5,"l":0,"h":5},{"s":"I","t":17.65,"m":6,"l":3.5,"h":8.5},{"s":"I","t":17.60,"m":4,"l":1.5,"h":6.5},{"s":"I","t":17.55,"m":8.5,"l":6,"h":11},
{"s":"I","t":17.50,"m":3,"l":0.5,"h":5.5},{"s":"I","t":17.45,"m":8,"l":5.5,"h":10.5},{"s":"I","t":17.40,"m":10,"l":7.5,"h":12.5},{"s":"I","t":17.35,"m":4.5,"l":2,"h":7},{"s":"I","t":17.30,"m":7.5,"l":5,"h":10},{"s":"I","t":17.25,"m":5.5,"l":3,"h":8},{"s":"I","t":17.20,"m":9.5,"l":7,"h":12},{"s":"I","t":17.15,"m":3.5,"l":1,"h":6},{"s":"I","t":17.10,"m":9,"l":6.5,"h":11.5},{"s":"I","t":17.05,"m":7,"l":4.5,"h":9.5},
{"s":"I","t":17.00,"m":9,"l":6.5,"h":11.5},{"s":"I","t":16.95,"m":4,"l":1.5,"h":6.5},{"s":"I","t":16.90,"m":8.5,"l":6,"h":11},{"s":"I","t":16.85,"m":11.5,"l":9,"h":14},{"s":"I","t":16.80,"m":6,"l":3.5,"h":8.5},{"s":"I","t":16.75,"m":8,"l":5.5,"h":10.5},{"s":"I","t":16.70,"m":11,"l":8.5,"h":13.5},{"s":"I","t":16.65,"m":7.5,"l":5,"h":10},{"s":"I","t":16.60,"m":5.5,"l":3,"h":8},{"s":"I","t":16.55,"m":11,"l":8.5,"h":13.5},
{"s":"I","t":16.50,"m":10,"l":7.5,"h":12.5},{"s":"I","t":16.45,"m":7,"l":4.5,"h":9.5},{"s":"I","t":16.40,"m":13,"l":10.5,"h":15.5},{"s":"I","t":16.35,"m":8.5,"l":6,"h":11},{"s":"I","t":16.30,"m":11.5,"l":9,"h":14},{"s":"I","t":16.25,"m":6.5,"l":4,"h":9},{"s":"I","t":16.20,"m":9.5,"l":7,"h":12},{"s":"I","t":16.15,"m":12.5,"l":10,"h":15},{"s":"I","t":16.10,"m":8,"l":5.5,"h":10.5},{"s":"I","t":16.05,"m":11,"l":8.5,"h":13.5},
{"s":"I","t":16.00,"m":8,"l":5.5,"h":10.5},{"s":"I","t":15.95,"m":13,"l":10.5,"h":15.5},{"s":"I","t":15.90,"m":10,"l":7.5,"h":12.5},{"s":"I","t":15.85,"m":7.5,"l":5,"h":10},{"s":"I","t":15.80,"m":14.5,"l":12,"h":17},{"s":"I","t":15.75,"m":11.5,"l":9,"h":14},{"s":"I","t":15.70,"m":8.5,"l":6,"h":11},{"s":"I","t":15.65,"m":12.5,"l":10,"h":15},{"s":"I","t":15.60,"m":10,"l":7.5,"h":12.5},{"s":"I","t":15.55,"m":16,"l":13.5,"h":18.5},
{"s":"I","t":15.50,"m":8,"l":5.5,"h":10.5},{"s":"I","t":15.45,"m":12,"l":9.5,"h":14.5},{"s":"I","t":15.40,"m":13,"l":10.5,"h":15.5},{"s":"I","t":15.35,"m":9.5,"l":7,"h":12},{"s":"I","t":15.30,"m":11.5,"l":9,"h":14},{"s":"I","t":15.25,"m":14.5,"l":12,"h":17},{"s":"I","t":15.20,"m":7.5,"l":5,"h":10},{"s":"I","t":15.15,"m":12.5,"l":10,"h":15},{"s":"I","t":15.10,"m":14,"l":11.5,"h":16.5},{"s":"I","t":15.05,"m":11,"l":8.5,"h":13.5},
{"s":"I","t":15.00,"m":15,"l":12.5,"h":17.5},{"s":"I","t":14.95,"m":10,"l":7.5,"h":12.5},{"s":"I","t":14.90,"m":13,"l":10.5,"h":15.5},{"s":"I","t":14.85,"m":11.5,"l":9,"h":14},{"s":"I","t":14.80,"m":16.5,"l":14,"h":19},{"s":"I","t":14.75,"m":9.5,"l":7,"h":12},{"s":"I","t":14.70,"m":14.5,"l":12,"h":17},{"s":"I","t":14.65,"m":12.5,"l":10,"h":15},{"s":"I","t":14.60,"m":11,"l":8.5,"h":13.5},{"s":"I","t":14.55,"m":16,"l":13.5,"h":18.5},
{"s":"I","t":14.50,"m":14,"l":11.5,"h":16.5},{"s":"I","t":14.45,"m":9.5,"l":7,"h":12},{"s":"I","t":14.40,"m":15.5,"l":13,"h":18},{"s":"I","t":14.35,"m":19,"l":16.5,"h":21.5},{"s":"I","t":14.30,"m":12.5,"l":10,"h":15},{"s":"I","t":14.25,"m":15.5,"l":13,"h":18},{"s":"I","t":14.20,"m":14,"l":11.5,"h":16.5},{"s":"I","t":14.15,"m":18.5,"l":16,"h":21},{"s":"I","t":14.10,"m":13.5,"l":11,"h":16},{"s":"I","t":14.05,"m":19,"l":16.5,"h":21.5},
{"s":"I","t":14.00,"m":13.5,"l":10.5,"h":16.5},{"s":"I","t":13.95,"m":20.5,"l":17.5,"h":23.5},{"s":"I","t":13.90,"m":23,"l":20,"h":26},{"s":"I","t":13.85,"m":15.5,"l":12.5,"h":18.5},{"s":"I","t":13.80,"m":19.5,"l":16.5,"h":22.5},{"s":"I","t":13.75,"m":13.5,"l":10.5,"h":16.5},{"s":"I","t":13.70,"m":22.5,"l":19.5,"h":25.5},{"s":"I","t":13.65,"m":19,"l":16,"h":22},{"s":"I","t":13.60,"m":21.5,"l":18.5,"h":24.5},{"s":"I","t":13.55,"m":15.5,"l":12.5,"h":18.5},
{"s":"I","t":13.50,"m":26,"l":23,"h":29},{"s":"I","t":13.45,"m":18.5,"l":15.5,"h":21.5},{"s":"I","t":13.40,"m":17,"l":14,"h":20},{"s":"I","t":13.35,"m":23.5,"l":20.5,"h":26.5},{"s":"I","t":13.30,"m":21,"l":18,"h":24},{"s":"I","t":13.25,"m":15,"l":12,"h":18},{"s":"I","t":13.20,"m":22.5,"l":19.5,"h":25.5},{"s":"I","t":13.15,"m":25.5,"l":22.5,"h":28.5},{"s":"I","t":13.10,"m":17.5,"l":14.5,"h":20.5},{"s":"I","t":13.05,"m":20.5,"l":17.5,"h":23.5},
{"s":"I","t":13.00,"m":24.5,"l":21.5,"h":27.5},{"s":"I","t":12.95,"m":18,"l":15,"h":21},{"s":"I","t":12.90,"m":22,"l":19,"h":25},{"s":"I","t":12.85,"m":26,"l":23,"h":29},{"s":"I","t":12.80,"m":17,"l":14,"h":20},{"s":"I","t":12.75,"m":20.5,"l":17.5,"h":23.5},{"s":"I","t":12.70,"m":23.5,"l":20.5,"h":26.5},{"s":"I","t":12.65,"m":15.5,"l":12.5,"h":18.5},{"s":"I","t":12.60,"m":25,"l":22,"h":28},{"s":"I","t":12.55,"m":22,"l":19,"h":25},
{"s":"I","t":12.50,"m":18.5,"l":15,"h":22},{"s":"I","t":12.45,"m":29.5,"l":26,"h":33},{"s":"I","t":12.40,"m":23.5,"l":20,"h":27},{"s":"I","t":12.35,"m":29.5,"l":26,"h":33},{"s":"I","t":12.30,"m":23,"l":19.5,"h":26.5},{"s":"I","t":12.25,"m":31.5,"l":28,"h":35},{"s":"I","t":12.20,"m":26,"l":22.5,"h":29.5},{"s":"I","t":12.15,"m":23.5,"l":20,"h":27},{"s":"I","t":12.10,"m":29.5,"l":26,"h":33},{"s":"I","t":12.05,"m":21.5,"l":18,"h":25},
{"s":"I","t":12.00,"m":28,"l":24.5,"h":31.5},{"s":"I","t":11.95,"m":20,"l":16.5,"h":23.5},{"s":"I","t":11.90,"m":28.5,"l":25,"h":32},{"s":"I","t":11.85,"m":20.5,"l":17,"h":24},{"s":"I","t":11.80,"m":21,"l":17.5,"h":24.5},{"s":"I","t":11.75,"m":26,"l":22.5,"h":29.5},{"s":"I","t":11.70,"m":16.5,"l":13,"h":20},{"s":"I","t":11.65,"m":26,"l":22.5,"h":29.5},{"s":"I","t":11.60,"m":25,"l":21.5,"h":28.5},{"s":"I","t":11.55,"m":21.5,"l":18,"h":25},
{"s":"I","t":11.50,"m":32,"l":28.5,"h":35.5},{"s":"I","t":11.45,"m":21,"l":17.5,"h":24.5},{"s":"I","t":11.40,"m":27,"l":23.5,"h":30.5},{"s":"I","t":11.35,"m":31,"l":27.5,"h":34.5},{"s":"I","t":11.30,"m":23,"l":19.5,"h":26.5},{"s":"I","t":11.25,"m":26,"l":22.5,"h":29.5},{"s":"I","t":11.20,"m":30.5,"l":27,"h":34},{"s":"I","t":11.15,"m":21,"l":17.5,"h":24.5},{"s":"I","t":11.10,"m":29.5,"l":26,"h":33},{"s":"I","t":11.05,"m":28,"l":24.5,"h":31.5},
{"s":"I","t":11.00,"m":23,"l":19.5,"h":26.5},{"s":"I","t":10.95,"m":32.5,"l":29,"h":36},{"s":"I","t":10.90,"m":28.5,"l":25,"h":32},{"s":"I","t":10.85,"m":24,"l":20.5,"h":27.5},{"s":"I","t":10.80,"m":31,"l":27.5,"h":34.5},{"s":"I","t":10.75,"m":21.5,"l":18,"h":25},{"s":"I","t":10.70,"m":30,"l":26.5,"h":33.5},{"s":"I","t":10.65,"m":27,"l":23.5,"h":30.5},{"s":"I","t":10.60,"m":34,"l":30.5,"h":37.5},{"s":"I","t":10.55,"m":24,"l":20.5,"h":27.5},
{"s":"I","t":10.50,"m":28.5,"l":25,"h":32},{"s":"I","t":10.45,"m":23,"l":19.5,"h":26.5},{"s":"I","t":10.40,"m":31.5,"l":28,"h":35},{"s":"I","t":10.35,"m":33,"l":29.5,"h":36.5},{"s":"I","t":10.30,"m":26,"l":22.5,"h":29.5},{"s":"I","t":10.25,"m":23.5,"l":20,"h":27},{"s":"I","t":10.20,"m":30.5,"l":27,"h":34},{"s":"I","t":10.15,"m":29,"l":25.5,"h":32.5},{"s":"I","t":10.10,"m":25,"l":21.5,"h":28.5},{"s":"I","t":10.05,"m":32,"l":28.5,"h":35.5},{"s":"I","t":10.00,"m":28,"l":24.5,"h":31.5},
{"s":"T","t":21.0,"m":0.0,"l":-1.0,"h":1.0},{"s":"T","t":20.8,"m":0.3,"l":-0.7,"h":1.3},{"s":"T","t":20.6,"m":-0.2,"l":-1.2,"h":0.8},{"s":"T","t":20.4,"m":0.2,"l":-0.8,"h":1.2},{"s":"T","t":20.2,"m":0.5,"l":-0.5,"h":1.5},{"s":"T","t":20.0,"m":0.1,"l":-0.9,"h":1.1},{"s":"T","t":19.8,"m":0.6,"l":-0.4,"h":1.6},{"s":"T","t":19.6,"m":0.2,"l":-0.8,"h":1.2},{"s":"T","t":19.4,"m":0.7,"l":-0.3,"h":1.7},{"s":"T","t":19.2,"m":0.3,"l":-0.7,"h":1.3},
{"s":"T","t":19.0,"m":0.2,"l":-0.8,"h":1.2},{"s":"T","t":18.8,"m":-0.5,"l":-1.5,"h":0.5},{"s":"T","t":18.7,"m":-0.9,"l":-1.9,"h":0.1},{"s":"T","t":18.6,"m":-0.4,"l":-1.4,"h":0.6},{"s":"T","t":18.4,"m":0.4,"l":-0.6,"h":1.4},{"s":"T","t":18.3,"m":0.6,"l":-0.4,"h":1.6},{"s":"T","t":18.2,"m":0.1,"l":-0.9,"h":1.1},{"s":"T","t":18.0,"m":-0.2,"l":-1.2,"h":0.8},{"s":"T","t":17.8,"m":-0.6,"l":-1.6,"h":0.4},{"s":"T","t":17.6,"m":-0.9,"l":-1.9,"h":0.1},
{"s":"T","t":17.4,"m":-1.1,"l":-2.1,"h":-0.1},{"s":"T","t":17.2,"m":-1.5,"l":-2.5,"h":-0.5},{"s":"T","t":17.1,"m":-1.0,"l":-2.0,"h":0.0},{"s":"T","t":17.0,"m":-1.4,"l":-2.4,"h":-0.4},{"s":"T","t":16.9,"m":-0.3,"l":-1.3,"h":0.7},{"s":"T","t":16.8,"m":-0.1,"l":-1.1,"h":0.9},{"s":"T","t":16.6,"m":0.4,"l":-0.6,"h":1.4},{"s":"T","t":16.4,"m":1.2,"l":0.2,"h":2.2},{"s":"T","t":16.2,"m":1.6,"l":0.6,"h":2.6},{"s":"T","t":16.0,"m":2.3,"l":1.2,"h":3.4},
{"s":"T","t":15.8,"m":2.9,"l":1.8,"h":4.0},{"s":"T","t":15.6,"m":3.6,"l":2.5,"h":4.7},{"s":"T","t":15.4,"m":4.3,"l":3.1,"h":5.5},{"s":"T","t":15.2,"m":5.0,"l":3.8,"h":6.2},{"s":"T","t":15.0,"m":5.8,"l":4.5,"h":7.1},{"s":"T","t":14.9,"m":6.4,"l":5.0,"h":7.8},{"s":"T","t":14.8,"m":7.0,"l":5.6,"h":8.4},{"s":"T","t":14.7,"m":8.3,"l":6.8,"h":9.8},{"s":"T","t":14.6,"m":10.5,"l":9.0,"h":12.0},{"s":"T","t":14.5,"m":13.0,"l":11.3,"h":14.8},
{"s":"T","t":14.4,"m":15.2,"l":13.2,"h":17.5},{"s":"T","t":14.35,"m":16.2,"l":14.0,"h":19.0},{"s":"T","t":14.3,"m":15.8,"l":13.8,"h":18.2},{"s":"T","t":14.2,"m":13.5,"l":11.5,"h":15.5},{"s":"T","t":14.1,"m":11.0,"l":9.2,"h":12.8},{"s":"T","t":14.0,"m":9.8,"l":8.0,"h":11.6},{"s":"T","t":13.9,"m":10.4,"l":8.6,"h":12.2},{"s":"T","t":13.8,"m":9.7,"l":7.9,"h":11.5},{"s":"T","t":13.6,"m":10.6,"l":8.8,"h":12.4},{"s":"T","t":13.4,"m":10.2,"l":8.4,"h":12.0},
{"s":"T","t":13.2,"m":11.0,"l":9.2,"h":12.8},{"s":"T","t":13.1,"m":10.8,"l":9.0,"h":12.6},{"s":"T","t":13.0,"m":11.2,"l":9.3,"h":13.1},{"s":"T","t":12.95,"m":13.4,"l":11.3,"h":15.5},{"s":"T","t":12.8,"m":13.0,"l":11.0,"h":15.0},{"s":"T","t":12.6,"m":12.8,"l":10.8,"h":14.8},{"s":"T","t":12.4,"m":12.4,"l":10.4,"h":14.4},{"s":"T","t":12.3,"m":11.9,"l":9.9,"h":13.9},{"s":"T","t":12.2,"m":12.8,"l":10.6,"h":15.0},{"s":"T","t":12.0,"m":13.2,"l":11.0,"h":15.4},
{"s":"T","t":11.8,"m":13.8,"l":11.5,"h":16.1},{"s":"T","t":11.6,"m":14.1,"l":11.8,"h":16.4},{"s":"T","t":11.4,"m":13.9,"l":11.5,"h":16.3},{"s":"T","t":11.2,"m":14.8,"l":12.3,"h":17.3},{"s":"T","t":11.0,"m":15.0,"l":12.5,"h":17.5},{"s":"T","t":10.8,"m":15.3,"l":12.7,"h":17.9},{"s":"T","t":10.6,"m":14.9,"l":12.3,"h":17.5},{"s":"T","t":10.4,"m":15.6,"l":12.9,"h":18.3},{"s":"T","t":10.2,"m":15.2,"l":12.5,"h":17.9},{"s":"T","t":10.0,"m":16.0,"l":13.2,"h":18.8}
],
"oc": [
{"t":21.0,"m":0.2},{"t":20.8,"m":1.0},{"t":20.6,"m":1.5},{"t":20.4,"m":1.5},{"t":20.15,"m":1.4},{"t":20.0,"m":0.2},{"t":19.8,"m":0.3},{"t":19.6,"m":1.5},{"t":19.4,"m":2.0},{"t":19.1,"m":1.9},{"t":18.9,"m":1.3},{"t":18.6,"m":1.2},{"t":18.4,"m":1.3},{"t":18.25,"m":0.7},{"t":18.0,"m":0.5},{"t":17.7,"m":0.3},{"t":17.4,"m":-0.3},{"t":17.25,"m":-0.2},{"t":17.1,"m":0.4},{"t":16.9,"m":0.6},{"t":16.7,"m":1.5},{"t":16.5,"m":2.5},{"t":16.2,"m":3.5},{"t":16.0,"m":4.0},{"t":15.85,"m":5.3},{"t":15.6,"m":6.3},{"t":15.3,"m":7.5},{"t":15.0,"m":8.7},{"t":14.7,"m":10.0},{"t":14.4,"m":11.8},{"t":14.2,"m":12.2},{"t":14.0,"m":12.8},{"t":13.7,"m":13.2},{"t":13.4,"m":13.3},{"t":13.1,"m":13.4},{"t":12.95,"m":13.0},{"t":12.8,"m":12.2},{"t":12.65,"m":11.8},{"t":12.5,"m":12.6},{"t":12.27,"m":16.0},{"t":12.1,"m":17.4},{"t":11.95,"m":20.0},{"t":11.8,"m":23.0},{"t":11.6,"m":24.2},{"t":11.3,"m":25.0},{"t":10.9,"m":25.8},{"t":10.5,"m":26.6},{"t":10.2,"m":27.1},{"t":10.0,"m":27.4}
],
"d": [
{"s":"I","t":21.0,"m":0.0,"l":-0.2,"h":0.2},{"s":"I","t":20.9,"m":-0.1,"l":-0.3,"h":0.15},{"s":"I","t":20.8,"m":0.15,"l":-0.1,"h":0.35},{"s":"I","t":20.7,"m":0.05,"l":-0.2,"h":0.3},{"s":"I","t":20.6,"m":-0.05,"l":-0.25,"h":0.2},{"s":"I","t":20.5,"m":0.1,"l":-0.1,"h":0.35},{"s":"I","t":20.4,"m":0.2,"l":-0.05,"h":0.4},{"s":"I","t":20.3,"m":0.05,"l":-0.15,"h":0.25},{"s":"I","t":20.2,"m":0.0,"l":-0.2,"h":0.2},{"s":"I","t":20.1,"m":0.12,"l":-0.1,"h":0.3},
{"s":"I","t":20.0,"m":0.1,"l":-0.1,"h":0.3},{"s":"I","t":19.9,"m":0.0,"l":-0.2,"h":0.25},{"s":"I","t":19.8,"m":-0.05,"l":-0.25,"h":0.2},{"s":"I","t":19.7,"m":0.08,"l":-0.15,"h":0.3},{"s":"I","t":19.6,"m":0.12,"l":-0.1,"h":0.35},{"s":"I","t":19.5,"m":-0.02,"l":-0.2,"h":0.2},{"s":"I","t":19.4,"m":0.0,"l":-0.2,"h":0.2},{"s":"I","t":19.3,"m":0.14,"l":-0.05,"h":0.35},{"s":"I","t":19.2,"m":0.1,"l":-0.1,"h":0.3},{"s":"I","t":19.1,"m":0.02,"l":-0.2,"h":0.25},
{"s":"I","t":19.0,"m":0.2,"l":0.0,"h":0.45},{"s":"I","t":18.9,"m":0.1,"l":-0.1,"h":0.3},{"s":"I","t":18.8,"m":0.0,"l":-0.2,"h":0.2},{"s":"I","t":18.7,"m":0.08,"l":-0.15,"h":0.3},{"s":"I","t":18.6,"m":0.15,"l":-0.05,"h":0.35},{"s":"I","t":18.5,"m":0.05,"l":-0.15,"h":0.25},{"s":"I","t":18.4,"m":0.0,"l":-0.2,"h":0.2},{"s":"I","t":18.3,"m":0.12,"l":-0.1,"h":0.3},{"s":"I","t":18.2,"m":0.1,"l":-0.1,"h":0.3},{"s":"I","t":18.1,"m":-0.02,"l":-0.2,"h":0.2},
{"s":"I","t":18.0,"m":-0.05,"l":-0.25,"h":0.15},{"s":"I","t":17.9,"m":0.06,"l":-0.15,"h":0.25},{"s":"I","t":17.8,"m":0.05,"l":-0.15,"h":0.25},{"s":"I","t":17.7,"m":-0.08,"l":-0.3,"h":0.15},{"s":"I","t":17.6,"m":-0.1,"l":-0.3,"h":0.1},{"s":"I","t":17.5,"m":0.0,"l":-0.2,"h":0.2},{"s":"I","t":17.4,"m":0.05,"l":-0.15,"h":0.25},{"s":"I","t":17.3,"m":0.15,"l":-0.05,"h":0.4},{"s":"I","t":17.2,"m":0.3,"l":0.05,"h":0.55},{"s":"I","t":17.1,"m":0.2,"l":0.0,"h":0.45},
{"s":"I","t":17.0,"m":0.25,"l":0.0,"h":0.5},{"s":"I","t":16.9,"m":0.35,"l":0.1,"h":0.65},{"s":"I","t":16.8,"m":0.4,"l":0.1,"h":0.75},{"s":"I","t":16.7,"m":0.28,"l":0.05,"h":0.55},{"s":"I","t":16.6,"m":0.3,"l":0.05,"h":0.55},{"s":"I","t":16.5,"m":0.42,"l":0.15,"h":0.7},{"s":"I","t":16.4,"m":0.45,"l":0.15,"h":0.7},{"s":"I","t":16.3,"m":0.32,"l":0.1,"h":0.6},{"s":"I","t":16.2,"m":0.35,"l":0.1,"h":0.6},{"s":"I","t":16.1,"m":0.48,"l":0.2,"h":0.75},
{"s":"I","t":16.0,"m":0.5,"l":0.2,"h":0.75},{"s":"I","t":15.9,"m":0.38,"l":0.1,"h":0.65},{"s":"I","t":15.8,"m":0.4,"l":0.15,"h":0.65},{"s":"I","t":15.7,"m":0.55,"l":0.25,"h":0.85},{"s":"I","t":15.6,"m":0.55,"l":0.25,"h":0.85},{"s":"I","t":15.5,"m":0.45,"l":0.15,"h":0.75},{"s":"I","t":15.4,"m":0.5,"l":0.2,"h":0.8},{"s":"I","t":15.3,"m":0.62,"l":0.3,"h":0.95},{"s":"I","t":15.2,"m":0.65,"l":0.3,"h":0.95},{"s":"I","t":15.1,"m":0.55,"l":0.25,"h":0.9},
{"s":"I","t":15.0,"m":0.6,"l":0.3,"h":0.95},{"s":"I","t":14.9,"m":0.72,"l":0.4,"h":1.05},{"s":"I","t":14.8,"m":0.75,"l":0.4,"h":1.1},{"s":"I","t":14.7,"m":0.62,"l":0.3,"h":0.95},{"s":"I","t":14.6,"m":0.65,"l":0.35,"h":1.0},{"s":"I","t":14.5,"m":0.78,"l":0.45,"h":1.15},{"s":"I","t":14.4,"m":0.8,"l":0.45,"h":1.2},{"s":"I","t":14.3,"m":0.68,"l":0.35,"h":1.0},{"s":"I","t":14.2,"m":0.7,"l":0.4,"h":1.05},{"s":"I","t":14.1,"m":0.82,"l":0.5,"h":1.2},
{"s":"I","t":14.0,"m":0.85,"l":0.5,"h":1.2},{"s":"I","t":13.9,"m":0.75,"l":0.4,"h":1.1},{"s":"I","t":13.8,"m":0.8,"l":0.45,"h":1.1},{"s":"I","t":13.7,"m":0.92,"l":0.6,"h":1.25},{"s":"I","t":13.6,"m":0.9,"l":0.6,"h":1.2},{"s":"I","t":13.5,"m":0.82,"l":0.5,"h":1.1},{"s":"I","t":13.4,"m":0.75,"l":0.45,"h":1.05},{"s":"I","t":13.3,"m":0.7,"l":0.45,"h":1.0},{"s":"I","t":13.2,"m":0.65,"l":0.4,"h":0.95},{"s":"I","t":13.1,"m":0.6,"l":0.35,"h":0.9},
{"s":"I","t":13.0,"m":0.55,"l":0.3,"h":0.85},{"s":"I","t":12.9,"m":0.68,"l":0.4,"h":0.95},{"s":"I","t":12.8,"m":0.75,"l":0.45,"h":1.05},{"s":"I","t":12.7,"m":0.65,"l":0.4,"h":0.95},{"s":"I","t":12.6,"m":0.7,"l":0.45,"h":1.0},{"s":"I","t":12.5,"m":0.82,"l":0.5,"h":1.15},{"s":"I","t":12.4,"m":0.85,"l":0.55,"h":1.2},{"s":"I","t":12.3,"m":0.9,"l":0.55,"h":1.3},{"s":"I","t":12.2,"m":0.95,"l":0.6,"h":1.3},{"s":"I","t":12.1,"m":1.1,"l":0.7,"h":1.5},
{"s":"I","t":12.0,"m":1.05,"l":0.65,"h":1.5},{"s":"I","t":11.9,"m":1.15,"l":0.65,"h":1.7},{"s":"I","t":11.8,"m":1.2,"l":0.7,"h":1.8},{"s":"I","t":11.7,"m":1.08,"l":0.55,"h":1.7},{"s":"I","t":11.6,"m":1.15,"l":0.6,"h":1.8},{"s":"I","t":11.5,"m":1.28,"l":0.7,"h":1.95},{"s":"I","t":11.4,"m":1.3,"l":0.7,"h":2.0},{"s":"I","t":11.3,"m":1.2,"l":0.6,"h":1.85},{"s":"I","t":11.2,"m":1.25,"l":0.65,"h":1.9},{"s":"I","t":11.1,"m":1.38,"l":0.8,"h":2.1},
{"s":"I","t":11.0,"m":1.4,"l":0.8,"h":2.1},{"s":"I","t":10.9,"m":1.25,"l":0.65,"h":1.95},{"s":"I","t":10.8,"m":1.3,"l":0.7,"h":2.0},{"s":"I","t":10.7,"m":1.42,"l":0.85,"h":2.1},{"s":"I","t":10.6,"m":1.45,"l":0.9,"h":2.1},{"s":"I","t":10.5,"m":1.32,"l":0.8,"h":2.0},{"s":"I","t":10.4,"m":1.35,"l":0.8,"h":2.0},{"s":"I","t":10.3,"m":1.48,"l":0.95,"h":2.1},{"s":"I","t":10.2,"m":1.5,"l":0.95,"h":2.1},{"s":"I","t":10.1,"m":1.38,"l":0.85,"h":2.0},{"s":"I","t":10.0,"m":1.4,"l":0.9,"h":2.0},
{"s":"T","t":21.0,"m":-0.2,"l":-0.5,"h":0.1},{"s":"T","t":20.9,"m":-0.5,"l":-0.9,"h":-0.1},{"s":"T","t":20.8,"m":-0.3,"l":-0.7,"h":0.1},{"s":"T","t":20.7,"m":-0.6,"l":-1.0,"h":0.4},{"s":"T","t":20.65,"m":0.6,"l":0.0,"h":0.9},{"s":"T","t":20.6,"m":-0.4,"l":-0.8,"h":0.0},{"s":"T","t":20.5,"m":-0.7,"l":-1.1,"h":-0.3},{"s":"T","t":20.45,"m":0.9,"l":0.2,"h":1.2},{"s":"T","t":20.4,"m":-0.5,"l":-0.9,"h":-0.1},{"s":"T","t":20.3,"m":-0.3,"l":-0.7,"h":0.1},
{"s":"T","t":20.2,"m":-0.6,"l":-1.0,"h":-0.2},{"s":"T","t":20.1,"m":-0.4,"l":-0.8,"h":0.0},{"s":"T","t":20.0,"m":-0.5,"l":-0.9,"h":-0.1},{"s":"T","t":19.9,"m":-0.8,"l":-1.2,"h":-0.4},{"s":"T","t":19.8,"m":-0.4,"l":-0.8,"h":0.0},{"s":"T","t":19.7,"m":-0.6,"l":-1.0,"h":-0.2},{"s":"T","t":19.6,"m":-0.3,"l":-0.7,"h":0.1},{"s":"T","t":19.5,"m":-0.7,"l":-1.1,"h":-0.3},{"s":"T","t":19.4,"m":-0.5,"l":-0.9,"h":-0.1},{"s":"T","t":19.3,"m":-0.8,"l":-1.2,"h":-0.4},
{"s":"T","t":19.2,"m":-0.4,"l":-0.8,"h":0.0},{"s":"T","t":19.1,"m":-0.6,"l":-1.0,"h":-0.2},{"s":"T","t":19.0,"m":-0.3,"l":-0.7,"h":0.1},{"s":"T","t":18.9,"m":-0.5,"l":-0.9,"h":-0.1},{"s":"T","t":18.8,"m":-0.2,"l":-0.6,"h":0.2},{"s":"T","t":18.7,"m":-0.6,"l":-1.0,"h":-0.2},{"s":"T","t":18.6,"m":-0.5,"l":-0.9,"h":-0.1},{"s":"T","t":18.5,"m":-0.9,"l":-1.3,"h":-0.5},{"s":"T","t":18.4,"m":-0.6,"l":-1.0,"h":-0.2},{"s":"T","t":18.3,"m":-0.8,"l":-1.2,"h":-0.4},
{"s":"T","t":18.2,"m":-0.5,"l":-0.9,"h":-0.1},{"s":"T","t":18.1,"m":-1.0,"l":-1.4,"h":-0.6},{"s":"T","t":18.0,"m":-0.8,"l":-1.3,"h":-0.3},{"s":"T","t":17.9,"m":-1.3,"l":-1.8,"h":-0.8},{"s":"T","t":17.8,"m":-1.6,"l":-2.3,"h":-1.0},{"s":"T","t":17.7,"m":-1.8,"l":-2.6,"h":-1.1},{"s":"T","t":17.6,"m":-1.4,"l":-2.2,"h":-0.7},{"s":"T","t":17.5,"m":-1.9,"l":-2.8,"h":-1.1},{"s":"T","t":17.4,"m":-1.1,"l":-1.8,"h":-0.5},{"s":"T","t":17.3,"m":-1.5,"l":-2.2,"h":-0.8},
{"s":"T","t":17.2,"m":-1.0,"l":-1.6,"h":-0.4},{"s":"T","t":17.1,"m":-1.4,"l":-2.0,"h":-0.8},{"s":"T","t":17.0,"m":-1.7,"l":-2.4,"h":-1.1},{"s":"T","t":16.9,"m":-2.1,"l":-3.0,"h":-1.3},{"s":"T","t":16.85,"m":-3.0,"l":-3.6,"h":-2.2},{"s":"T","t":16.7,"m":-3.1,"l":-4.1,"h":-1.9},{"s":"T","t":16.4,"m":-3.05,"l":-4.15,"h":-1.9},{"s":"T","t":16.0,"m":-3.05,"l":-4.2,"h":-1.9},{"s":"T","t":15.6,"m":-3.05,"l":-4.2,"h":-1.9},{"s":"T","t":15.2,"m":-3.05,"l":-4.2,"h":-1.9},
{"s":"T","t":14.8,"m":-3.05,"l":-4.2,"h":-1.85},{"s":"T","t":14.4,"m":-3.05,"l":-4.2,"h":-1.85},{"s":"T","t":14.0,"m":-3.0,"l":-4.2,"h":-1.8},{"s":"T","t":13.8,"m":-2.95,"l":-4.15,"h":-1.8},{"s":"T","t":13.7,"m":-3.0,"l":-4.2,"h":-1.75},{"s":"T","t":13.66,"m":-2.9,"l":-4.2,"h":-1.75},{"s":"T","t":13.62,"m":-0.8,"l":-1.5,"h":0.0},{"s":"T","t":13.55,"m":-0.3,"l":-0.9,"h":0.4},{"s":"T","t":13.5,"m":0.2,"l":-0.5,"h":1.0},{"s":"T","t":13.45,"m":2.5,"l":1.5,"h":3.5},
{"s":"T","t":13.42,"m":3.8,"l":2.5,"h":5.2},{"s":"T","t":13.38,"m":2.0,"l":1.0,"h":3.0},{"s":"T","t":13.33,"m":2.8,"l":1.8,"h":3.6},{"s":"T","t":13.28,"m":1.6,"l":0.8,"h":2.4},{"s":"T","t":13.2,"m":1.2,"l":0.4,"h":2.0},{"s":"T","t":13.1,"m":0.3,"l":-0.5,"h":1.0},{"s":"T","t":13.05,"m":-0.8,"l":-1.5,"h":0.0},{"s":"T","t":13.0,"m":-1.8,"l":-2.5,"h":-1.0},{"s":"T","t":12.95,"m":-2.6,"l":-3.4,"h":-1.8},{"s":"T","t":12.9,"m":-3.0,"l":-4.0,"h":-2.2},
{"s":"T","t":12.85,"m":-2.5,"l":-3.3,"h":-1.6},{"s":"T","t":12.8,"m":-1.5,"l":-2.3,"h":-0.8},{"s":"T","t":12.7,"m":-0.5,"l":-1.2,"h":0.2},{"s":"T","t":12.6,"m":-0.2,"l":-0.9,"h":0.5},{"s":"T","t":12.5,"m":0.0,"l":-0.7,"h":0.7},{"s":"T","t":12.4,"m":0.3,"l":-0.4,"h":1.0},{"s":"T","t":12.3,"m":0.5,"l":-0.2,"h":1.2},{"s":"T","t":12.2,"m":0.8,"l":0.1,"h":1.5},{"s":"T","t":12.1,"m":1.0,"l":0.3,"h":1.8},{"s":"T","t":12.05,"m":1.8,"l":1.0,"h":2.4},
{"s":"T","t":12.0,"m":1.3,"l":0.5,"h":2.0},{"s":"T","t":11.95,"m":0.6,"l":-0.2,"h":1.3},{"s":"T","t":11.9,"m":0.0,"l":-0.8,"h":0.8},{"s":"T","t":11.8,"m":-0.6,"l":-1.4,"h":0.1},{"s":"T","t":11.7,"m":-0.9,"l":-1.7,"h":-0.2},{"s":"T","t":11.6,"m":-1.0,"l":-1.9,"h":-0.3},{"s":"T","t":11.5,"m":-1.3,"l":-2.2,"h":-0.5},{"s":"T","t":11.4,"m":-1.5,"l":-2.4,"h":-0.8},{"s":"T","t":11.3,"m":-1.9,"l":-2.9,"h":-1.0},{"s":"T","t":11.2,"m":-2.6,"l":-3.6,"h":-1.7},
{"s":"T","t":11.15,"m":-2.2,"l":-3.2,"h":-1.4},{"s":"T","t":11.1,"m":-1.6,"l":-2.5,"h":-0.9},{"s":"T","t":11.0,"m":-1.3,"l":-2.2,"h":-0.5},{"s":"T","t":10.9,"m":-1.2,"l":-2.0,"h":-0.4},{"s":"T","t":10.8,"m":-1.0,"l":-1.8,"h":-0.2},{"s":"T","t":10.7,"m":-0.6,"l":-1.4,"h":0.2},{"s":"T","t":10.6,"m":-0.2,"l":-1.0,"h":0.6},{"s":"T","t":10.5,"m":0.2,"l":-0.6,"h":1.0},{"s":"T","t":10.4,"m":0.5,"l":-0.3,"h":1.3},{"s":"T","t":10.3,"m":0.8,"l":0.0,"h":1.6},
{"s":"T","t":10.2,"m":0.9,"l":0.1,"h":1.7},{"s":"T","t":10.1,"m":1.0,"l":0.2,"h":1.8},{"s":"T","t":10.0,"m":1.1,"l":0.3,"h":1.9}
],
"od": [
{"t":21.0,"m":-0.1},{"t":20.87,"m":-1.75},{"t":20.78,"m":-1.9},{"t":20.72,"m":0.3},{"t":20.64,"m":-0.8},{"t":20.55,"m":-1.5},{"t":20.44,"m":-1.25},{"t":20.35,"m":-1.6},{"t":20.27,"m":-0.8},{"t":20.18,"m":-0.7},{"t":20.1,"m":-0.3},{"t":19.97,"m":-0.9},{"t":19.84,"m":-0.7},{"t":19.71,"m":-0.35},{"t":19.58,"m":-0.4},{"t":19.49,"m":-1.5},{"t":19.41,"m":-0.8},{"t":19.32,"m":-1.3},{"t":19.24,"m":-0.8},{"t":19.06,"m":1.0},{"t":18.93,"m":1.9},{"t":18.8,"m":2.4},{"t":18.68,"m":0.85},{"t":18.59,"m":-0.55},{"t":18.42,"m":-2.7},{"t":18.25,"m":-1.85},{"t":18.07,"m":-0.55},{"t":17.9,"m":-2.0},{"t":17.82,"m":-1.15},{"t":17.73,"m":-1.05},{"t":17.65,"m":-0.7},{"t":17.56,"m":-0.8},{"t":17.43,"m":-0.2},{"t":17.34,"m":-0.45},{"t":17.21,"m":-0.8},{"t":17.13,"m":-1.05},{"t":17.04,"m":-2.35},{"t":16.96,"m":-3.65},{"t":16.87,"m":-2.8},{"t":16.83,"m":-1.05},{"t":16.74,"m":-2.6},{"t":16.7,"m":-2.95},{"t":16.65,"m":-1.05},{"t":16.57,"m":-2.35},{"t":16.48,"m":-1.05},{"t":16.4,"m":-0.7},{"t":16.31,"m":0.15},{"t":16.22,"m":-1.4},{"t":16.14,"m":0.15},{"t":16.05,"m":0.4},{"t":15.97,"m":0.15},{"t":15.88,"m":-1.85},{"t":15.79,"m":-2.0},{"t":15.71,"m":0.15},{"t":15.58,"m":1.1},{"t":15.49,"m":0.6},{"t":15.32,"m":0.25},{"t":15.15,"m":-0.1},{"t":15.02,"m":0.75},{"t":14.89,"m":-0.2},{"t":14.8,"m":0.4},{"t":14.72,"m":-0.55},{"t":14.63,"m":0.6},{"t":14.55,"m":-0.1},{"t":14.46,"m":0.4},{"t":14.37,"m":-0.1},{"t":14.24,"m":0.75},{"t":14.15,"m":-0.8},{"t":14.07,"m":0.6},{"t":13.98,"m":0.4},{"t":13.86,"m":1.45},{"t":13.77,"m":1.35},{"t":13.68,"m":0.15},{"t":13.6,"m":-0.55},{"t":13.47,"m":0.4},{"t":13.34,"m":0.85},{"t":13.21,"m":1.55},{"t":13.12,"m":0.4},{"t":13.04,"m":1.35},{"t":12.91,"m":1.55},{"t":12.82,"m":0.6},{"t":12.7,"m":0.5},{"t":12.61,"m":1.35},{"t":12.53,"m":0.85},{"t":12.39,"m":-0.55},{"t":12.27,"m":1.1},{"t":12.18,"m":0.85},{"t":12.1,"m":1.35},{"t":11.97,"m":0.15},{"t":11.88,"m":-0.7},{"t":11.71,"m":-1.3},{"t":11.54,"m":-0.1},{"t":11.36,"m":0.6},{"t":11.15,"m":0.75},{"t":11.02,"m":-0.1},{"t":10.85,"m":-0.2},{"t":10.72,"m":1.8},{"t":10.59,"m":0.4},{"t":10.46,"m":0.5},{"t":10.33,"m":1.0},{"t":10.2,"m":0.5},{"t":10.0,"m":1.2}
]
},
"concat": [
{
 "width": 428, "height": 319,
 "encoding": {
  "x": {"field": "t", "type": "quantitative", "scale": {"domain": [10, 21], "reverse": true, "nice": false, "zero": false}, "axis": {"values": [21, 19, 17, 15, 13, 11], "labelExpr": "datum.value + 'ky'", "title": null, "labelFontSize": 17}},
  "y": {"field": "m", "type": "quantitative", "scale": {"domain": [-35, 15], "nice": false, "zero": false}, "axis": {"values": [-30, -20, -10, 0, 10], "title": "atmospheric temperature [°C]", "titleFontSize": 17.5, "labelFontSize": 17}}
 },
 "layer": [
  {"data": {"name": "a"}, "transform": [{"filter": "datum.s == 'T'"}], "mark": {"type": "area", "fill": "#bf8c4a", "fillOpacity": 0.3, "clip": true}, "encoding": {"y": {"field": "l", "type": "quantitative", "scale": {"domain": [-35, 15], "nice": false, "zero": false}, "axis": {"values": [-30, -20, -10, 0, 10], "title": "atmospheric temperature [°C]", "titleFontSize": 17.5, "labelFontSize": 17}}, "y2": {"field": "h"}}},
  {"data": {"name": "a"}, "transform": [{"filter": "datum.s == 'I'"}], "mark": {"type": "area", "fill": "#4f7896", "fillOpacity": 0.3, "clip": true}, "encoding": {"y": {"field": "l", "type": "quantitative", "scale": {"domain": [-35, 15], "nice": false, "zero": false}, "axis": {"values": [-30, -20, -10, 0, 10], "title": "atmospheric temperature [°C]", "titleFontSize": 17.5, "labelFontSize": 17}}, "y2": {"field": "h"}}},
  {"data": {"name": "a"}, "transform": [{"filter": "datum.s == 'I'"}], "mark": {"type": "line", "stroke": "#4f7896", "strokeWidth": 1.1, "strokeJoin": "round", "clip": true}},
  {"data": {"name": "a"}, "transform": [{"filter": "datum.s == 'T'"}], "mark": {"type": "line", "stroke": "#bf8c4a", "strokeWidth": 1.6, "strokeJoin": "round", "clip": true}},
  {"data": {"values": [{"t": 10.3, "m": -32.6, "k": "a"}]}, "mark": {"type": "text", "font": "Liberation Sans", "fontSize": 48, "align": "right", "baseline": "alphabetic", "color": "#000000"}, "encoding": {"text": {"field": "k"}}},
  {"data": {"values": [{"k": "T"}, {"k": "I"}]}, "transform": [{"filter": "false"}], "mark": {"type": "point", "shape": "square", "filled": true, "opacity": 1, "stroke": "#333333", "strokeWidth": 1},
   "encoding": {"color": {"field": "k", "type": "nominal", "scale": {"domain": ["T", "I"], "range": ["#bf8c4a", "#4f7896"]}, "legend": {"orient": "top-left", "offset": 9, "title": null, "labelFontSize": 17, "rowPadding": 8, "labelExpr": "datum.label == 'T' ? 'index : TRACE21k' : 'index : iLOVECLIM'"}}}}
 ]
},
{
 "width": 428, "height": 319,
 "encoding": {
  "x": {"field": "t", "type": "quantitative", "scale": {"domain": [10, 21], "reverse": true, "nice": false, "zero": false}, "axis": {"values": [21, 19, 17, 15, 13, 11], "labels": false, "title": null}},
  "y": {"field": "m", "type": "quantitative", "scale": {"domain": [-1, 4], "nice": false, "zero": false}, "axis": {"values": [0, 1, 2, 3, 4], "title": "oceanic subsurface temperature[°C]", "titleFontSize": 15.5, "labelFontSize": 15, "titlePadding": 16}}
 },
 "layer": [
  {"data": {"name": "b"}, "transform": [{"filter": "datum.s == 'T'"}], "mark": {"type": "area", "fill": "#bf8c4a", "fillOpacity": 0.3, "clip": true}, "encoding": {"y": {"field": "l", "type": "quantitative", "scale": {"domain": [-1, 4], "nice": false, "zero": false}, "axis": {"values": [0, 1, 2, 3, 4], "title": "oceanic subsurface temperature[°C]", "titleFontSize": 15.5, "labelFontSize": 15, "titlePadding": 16}}, "y2": {"field": "h"}}},
  {"data": {"name": "b"}, "transform": [{"filter": "datum.s == 'I'"}], "mark": {"type": "area", "fill": "#4f7896", "fillOpacity": 0.3, "clip": true}, "encoding": {"y": {"field": "l", "type": "quantitative", "scale": {"domain": [-1, 4], "nice": false, "zero": false}, "axis": {"values": [0, 1, 2, 3, 4], "title": "oceanic subsurface temperature[°C]", "titleFontSize": 15.5, "labelFontSize": 15, "titlePadding": 16}}, "y2": {"field": "h"}}},
  {"data": {"name": "b"}, "transform": [{"filter": "datum.s == 'I'"}], "mark": {"type": "line", "stroke": "#4f7896", "strokeWidth": 2.6, "strokeJoin": "round", "clip": true}},
  {"data": {"name": "b"}, "transform": [{"filter": "datum.s == 'T'"}], "mark": {"type": "line", "stroke": "#bf8c4a", "strokeWidth": 2.6, "strokeJoin": "round", "clip": true}},
  {"data": {"values": [{"t": 11.23, "t2": 9.9, "m": -0.05, "m2": -1.1}]}, "mark": {"type": "rect", "fill": "#ffffff", "clip": true}, "encoding": {"x2": {"field": "t2"}, "y2": {"field": "m2"}}},
  {"data": {"values": [{"t": 11.05, "m": -0.82, "k": "b"}]}, "mark": {"type": "text", "font": "Liberation Sans", "fontSize": 58, "align": "left", "baseline": "alphabetic", "color": "#000000"}, "encoding": {"text": {"field": "k"}}},
  {"data": {"values": [{"k": "T"}, {"k": "I"}]}, "transform": [{"filter": "false"}], "mark": {"type": "point", "shape": "square", "filled": true, "opacity": 1, "stroke": "#333333", "strokeWidth": 1},
   "encoding": {"color": {"field": "k", "type": "nominal", "scale": {"domain": ["T", "I"], "range": ["#bf8c4a", "#4f7896"]}, "legend": {"orient": "top-left", "offset": 9, "title": null, "labelFontSize": 17, "rowPadding": 8, "labelExpr": "datum.label == 'T' ? 'index : TRACE21k' : 'index : iLOVECLIM'"}}}}
 ]
},
{
 "width": 428, "height": 319,
 "encoding": {
  "x": {"field": "t", "type": "quantitative", "scale": {"domain": [10, 21], "reverse": true, "nice": false, "zero": false}, "axis": {"values": [21, 19, 17, 15, 13, 11], "labelExpr": "datum.value + 'ky'", "title": null, "labelFontSize": 17}},
  "y": {"field": "m", "type": "quantitative", "scale": {"domain": [-5, 40], "nice": false, "zero": false}, "axis": {"values": [0, 10, 20, 30, 40], "title": "atmospheric temperature anomalies[°C]", "titleFontSize": 18, "labelFontSize": 17}}
 },
 "layer": [
  {"data": {"name": "c"}, "transform": [{"filter": "datum.s == 'T'"}], "mark": {"type": "area", "fill": "#bf8c4a", "fillOpacity": 0.3, "clip": true}, "encoding": {"y": {"field": "l", "type": "quantitative", "scale": {"domain": [-5, 40], "nice": false, "zero": false}, "axis": {"values": [0, 10, 20, 30, 40], "title": "atmospheric temperature anomalies[°C]", "titleFontSize": 18, "labelFontSize": 17}}, "y2": {"field": "h"}}},
  {"data": {"name": "c"}, "transform": [{"filter": "datum.s == 'I'"}], "mark": {"type": "area", "fill": "#4f7896", "fillOpacity": 0.3, "clip": true}, "encoding": {"y": {"field": "l", "type": "quantitative", "scale": {"domain": [-5, 40], "nice": false, "zero": false}, "axis": {"values": [0, 10, 20, 30, 40], "title": "atmospheric temperature anomalies[°C]", "titleFontSize": 18, "labelFontSize": 17}}, "y2": {"field": "h"}}},
  {"data": {"name": "c"}, "transform": [{"filter": "datum.s == 'I'"}], "mark": {"type": "line", "stroke": "#4f7896", "strokeWidth": 1.4, "strokeJoin": "round", "clip": true}},
  {"data": {"name": "c"}, "transform": [{"filter": "datum.s == 'T'"}], "mark": {"type": "line", "stroke": "#bf8c4a", "strokeWidth": 2.6, "strokeJoin": "round", "clip": true}},
  {"data": {"name": "oc"}, "mark": {"type": "line", "stroke": "#111111", "strokeWidth": 4, "strokeJoin": "round", "clip": true}},
  {"data": {"name": "oc"}, "mark": {"type": "line", "stroke": "#ffffff", "strokeWidth": 2, "strokeJoin": "round", "clip": true}},
  {"data": {"values": [{"t": 10.28, "m": -2.55, "k": "c"}]}, "mark": {"type": "text", "font": "Liberation Sans", "fontSize": 53, "align": "right", "baseline": "alphabetic", "color": "#000000"}, "encoding": {"text": {"field": "k"}}},
  {"data": {"values": [{"k": "O"}, {"k": "T"}, {"k": "I"}]}, "transform": [{"filter": "false"}], "mark": {"type": "point", "shape": "square", "filled": true, "opacity": 1, "stroke": "#333333", "strokeWidth": 1},
   "encoding": {"color": {"field": "k", "type": "nominal", "scale": {"domain": ["O", "T", "I"], "range": ["#ffffff", "#bf8c4a", "#4f7896"]}, "legend": {"orient": "top-left", "offset": 9, "title": null, "labelFontSize": 17, "rowPadding": 8, "labelExpr": "datum.label == 'O' ? 'index : Osman et al. (2021)' : datum.label == 'T' ? 'index : TRACE21k' : 'index : iLOVECLIM'"}}}}
 ]
},
{
 "width": 428, "height": 319,
 "encoding": {
  "x": {"field": "t", "type": "quantitative", "scale": {"domain": [10, 21], "reverse": true, "nice": false, "zero": false}, "axis": {"values": [21, 19, 17, 15, 13, 11], "labelExpr": "datum.value + 'ky'", "title": null, "labelFontSize": 15}},
  "y": {"field": "m", "type": "quantitative", "scale": {"domain": [-4.8, 6.5], "nice": false, "zero": false}, "axis": {"values": [-4, -2, 0, 2, 4, 6], "title": "oceanic subsurface temperature anomalies [°C]", "titleFontSize": 15.5, "labelFontSize": 15, "titlePadding": 7}}
 },
 "layer": [
  {"data": {"name": "d"}, "transform": [{"filter": "datum.s == 'T'"}], "mark": {"type": "area", "fill": "#bf8c4a", "fillOpacity": 0.3, "clip": true}, "encoding": {"y": {"field": "l", "type": "quantitative", "scale": {"domain": [-4.8, 6.5], "nice": false, "zero": false}, "axis": {"values": [-4, -2, 0, 2, 4, 6], "title": "oceanic subsurface temperature anomalies [°C]", "titleFontSize": 15.5, "labelFontSize": 15, "titlePadding": 7}}, "y2": {"field": "h"}}},
  {"data": {"name": "d"}, "transform": [{"filter": "datum.s == 'I'"}], "mark": {"type": "area", "fill": "#4f7896", "fillOpacity": 0.3, "clip": true}, "encoding": {"y": {"field": "l", "type": "quantitative", "scale": {"domain": [-4.8, 6.5], "nice": false, "zero": false}, "axis": {"values": [-4, -2, 0, 2, 4, 6], "title": "oceanic subsurface temperature anomalies [°C]", "titleFontSize": 15.5, "labelFontSize": 15, "titlePadding": 7}}, "y2": {"field": "h"}}},
  {"data": {"name": "d"}, "transform": [{"filter": "datum.s == 'I'"}], "mark": {"type": "line", "stroke": "#4f7896", "strokeWidth": 2.6, "strokeJoin": "round", "clip": true}},
  {"data": {"name": "d"}, "transform": [{"filter": "datum.s == 'T'"}], "mark": {"type": "line", "stroke": "#bf8c4a", "strokeWidth": 2.2, "strokeJoin": "round", "clip": true}},
  {"data": {"name": "od"}, "mark": {"type": "line", "stroke": "#111111", "strokeWidth": 4.5, "strokeJoin": "round", "clip": true}},
  {"data": {"name": "od"}, "mark": {"type": "line", "stroke": "#ffffff", "strokeWidth": 2.5, "strokeJoin": "round", "clip": true}},
  {"data": {"values": [{"t": 10.98, "t2": 9.9, "m": -2.75, "m2": -4.9}]}, "mark": {"type": "rect", "fill": "#ffffff", "clip": true}, "encoding": {"x2": {"field": "t2"}, "y2": {"field": "m2"}}},
  {"data": {"values": [{"t": 10.85, "m": -4.35, "k": "d"}]}, "mark": {"type": "text", "font": "Liberation Sans", "fontSize": 60, "align": "left", "baseline": "alphabetic", "color": "#000000"}, "encoding": {"text": {"field": "k"}}},
  {"data": {"values": [{"k": "M"}, {"k": "T"}, {"k": "I"}]}, "transform": [{"filter": "false"}], "mark": {"type": "point", "shape": "square", "filled": true, "opacity": 1, "stroke": "#333333", "strokeWidth": 1},
   "encoding": {"color": {"field": "k", "type": "nominal", "scale": {"domain": ["M", "T", "I"], "range": ["#ffffff", "#bf8c4a", "#4f7896"]}, "legend": {"orient": "top-left", "offset": 7, "title": null, "labelFontSize": 15, "rowPadding": 7, "labelExpr": "datum.label == 'M' ? 'MD01-2461 (SubT)' : datum.label == 'T' ? 'index : TRACE21k' : 'index : iLOVECLIM'"}}}}
 ]
}
]
}
